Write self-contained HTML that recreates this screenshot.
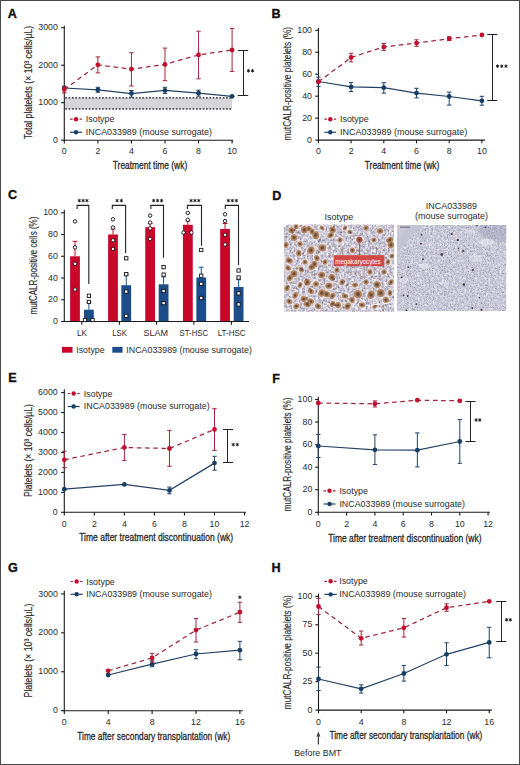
<!DOCTYPE html>
<html><head><meta charset="utf-8"><title>Figure</title>
<style>html,body{margin:0;padding:0;background:#fff;width:520px;height:765px;overflow:hidden}
svg{display:block;font-family:"Liberation Sans", sans-serif}</style></head>
<body>
<svg width="520" height="765" viewBox="0 0 520 765" font-family='"Liberation Sans", sans-serif'>
<rect x="0" y="0" width="520" height="765" fill="#fff"/>
<text x="7.8" y="17.9" font-size="12.6" text-anchor="start" fill="#111" font-weight="bold" stroke="#111" stroke-width="0.35">A</text>
<rect x="64.3" y="97.7" width="167.7" height="11.5" fill="#d6d6da"/>
<line x1="65.3" y1="97.9" x2="232" y2="97.9" stroke="#555" stroke-width="1.7" stroke-dasharray="1.7 1.65"/>
<line x1="65.3" y1="108.9" x2="232" y2="108.9" stroke="#555" stroke-width="1.7" stroke-dasharray="1.7 1.65"/>
<line x1="64.3" y1="25.8" x2="64.3" y2="140.75" stroke="#1a1a1a" stroke-width="1.1"/>
<line x1="63.75" y1="140.2" x2="233" y2="140.2" stroke="#1a1a1a" stroke-width="1.1"/>
<line x1="61.1" y1="140.2" x2="64.3" y2="140.2" stroke="#1a1a1a" stroke-width="1.1"/>
<text x="57.9" y="142.8" font-size="8.8" text-anchor="end" fill="#2b2b2b" font-weight="normal">0</text>
<line x1="61.1" y1="102.7" x2="64.3" y2="102.7" stroke="#1a1a1a" stroke-width="1.1"/>
<text x="57.9" y="105.3" font-size="8.8" text-anchor="end" fill="#2b2b2b" font-weight="normal">1000</text>
<line x1="61.1" y1="65.2" x2="64.3" y2="65.2" stroke="#1a1a1a" stroke-width="1.1"/>
<text x="57.9" y="67.8" font-size="8.8" text-anchor="end" fill="#2b2b2b" font-weight="normal">2000</text>
<line x1="61.1" y1="27.7" x2="64.3" y2="27.7" stroke="#1a1a1a" stroke-width="1.1"/>
<text x="57.9" y="30.3" font-size="8.8" text-anchor="end" fill="#2b2b2b" font-weight="normal">3000</text>
<line x1="64.3" y1="140.2" x2="64.3" y2="143.4" stroke="#1a1a1a" stroke-width="1.1"/>
<text x="64.3" y="154" font-size="8.8" text-anchor="middle" fill="#2b2b2b" font-weight="normal">0</text>
<line x1="97.86" y1="140.2" x2="97.86" y2="143.4" stroke="#1a1a1a" stroke-width="1.1"/>
<text x="97.86" y="154" font-size="8.8" text-anchor="middle" fill="#2b2b2b" font-weight="normal">2</text>
<line x1="131.42" y1="140.2" x2="131.42" y2="143.4" stroke="#1a1a1a" stroke-width="1.1"/>
<text x="131.42" y="154" font-size="8.8" text-anchor="middle" fill="#2b2b2b" font-weight="normal">4</text>
<line x1="164.98" y1="140.2" x2="164.98" y2="143.4" stroke="#1a1a1a" stroke-width="1.1"/>
<text x="164.98" y="154" font-size="8.8" text-anchor="middle" fill="#2b2b2b" font-weight="normal">6</text>
<line x1="198.54" y1="140.2" x2="198.54" y2="143.4" stroke="#1a1a1a" stroke-width="1.1"/>
<text x="198.54" y="154" font-size="8.8" text-anchor="middle" fill="#2b2b2b" font-weight="normal">8</text>
<line x1="232.1" y1="140.2" x2="232.1" y2="143.4" stroke="#1a1a1a" stroke-width="1.1"/>
<text x="232.1" y="154" font-size="8.8" text-anchor="middle" fill="#2b2b2b" font-weight="normal">10</text>
<text x="112.8" y="169.1" font-size="10.6" text-anchor="start" fill="#2b2b2b" font-weight="normal" textLength="74.4" lengthAdjust="spacingAndGlyphs" stroke="#2b2b2b" stroke-width="0.3">Treatment time (wk)</text>
<text transform="translate(31.9 82.55) rotate(-90)" x="0" y="0" font-size="11" text-anchor="middle" fill="#2b2b2b" stroke="#2b2b2b" stroke-width="0.15" textLength="113.3" lengthAdjust="spacingAndGlyphs">Total platelets (× 10³ cells/µL)</text>
<path d="M64.3 88 L97.86 89.8 L131.42 93.5 L164.98 90.4 L198.54 93.2 L232.1 96.3" fill="none" stroke="#234266" stroke-width="1.25"/>
<line x1="97.86" y1="87.3" x2="97.86" y2="92.3" stroke="#234266" stroke-width="1"/>
<line x1="95.66" y1="87.3" x2="100.06" y2="87.3" stroke="#234266" stroke-width="1"/>
<line x1="95.66" y1="92.3" x2="100.06" y2="92.3" stroke="#234266" stroke-width="1"/>
<line x1="131.42" y1="90.5" x2="131.42" y2="97.2" stroke="#234266" stroke-width="1"/>
<line x1="129.22" y1="90.5" x2="133.62" y2="90.5" stroke="#234266" stroke-width="1"/>
<line x1="129.22" y1="97.2" x2="133.62" y2="97.2" stroke="#234266" stroke-width="1"/>
<line x1="164.98" y1="87.3" x2="164.98" y2="93.5" stroke="#234266" stroke-width="1"/>
<line x1="162.78" y1="87.3" x2="167.18" y2="87.3" stroke="#234266" stroke-width="1"/>
<line x1="162.78" y1="93.5" x2="167.18" y2="93.5" stroke="#234266" stroke-width="1"/>
<line x1="198.54" y1="90.2" x2="198.54" y2="96.2" stroke="#234266" stroke-width="1"/>
<line x1="196.34" y1="90.2" x2="200.74" y2="90.2" stroke="#234266" stroke-width="1"/>
<line x1="196.34" y1="96.2" x2="200.74" y2="96.2" stroke="#234266" stroke-width="1"/>
<circle cx="64.3" cy="88" r="2.4" fill="#173f66"/>
<circle cx="97.86" cy="89.8" r="2.4" fill="#173f66"/>
<circle cx="131.42" cy="93.5" r="2.4" fill="#173f66"/>
<circle cx="164.98" cy="90.4" r="2.4" fill="#173f66"/>
<circle cx="198.54" cy="93.2" r="2.4" fill="#173f66"/>
<circle cx="232.1" cy="96.3" r="2.4" fill="#173f66"/>
<path d="M64.3 89.5 L97.86 64.8 L131.42 69.2 L164.98 64.4 L198.54 54.9 L232.1 50" fill="none" stroke="#a0253e" stroke-width="1.25" stroke-dasharray="4.6 3.6"/>
<line x1="64.3" y1="86.2" x2="64.3" y2="92.8" stroke="#a0253e" stroke-width="1"/>
<line x1="62.1" y1="86.2" x2="66.5" y2="86.2" stroke="#a0253e" stroke-width="1"/>
<line x1="62.1" y1="92.8" x2="66.5" y2="92.8" stroke="#a0253e" stroke-width="1"/>
<line x1="97.86" y1="56.9" x2="97.86" y2="72.9" stroke="#a0253e" stroke-width="1"/>
<line x1="95.66" y1="56.9" x2="100.06" y2="56.9" stroke="#a0253e" stroke-width="1"/>
<line x1="95.66" y1="72.9" x2="100.06" y2="72.9" stroke="#a0253e" stroke-width="1"/>
<line x1="131.42" y1="52.7" x2="131.42" y2="86" stroke="#a0253e" stroke-width="1"/>
<line x1="129.22" y1="52.7" x2="133.62" y2="52.7" stroke="#a0253e" stroke-width="1"/>
<line x1="129.22" y1="86" x2="133.62" y2="86" stroke="#a0253e" stroke-width="1"/>
<line x1="164.98" y1="48.1" x2="164.98" y2="80.7" stroke="#a0253e" stroke-width="1"/>
<line x1="162.78" y1="48.1" x2="167.18" y2="48.1" stroke="#a0253e" stroke-width="1"/>
<line x1="162.78" y1="80.7" x2="167.18" y2="80.7" stroke="#a0253e" stroke-width="1"/>
<line x1="198.54" y1="31.2" x2="198.54" y2="78.8" stroke="#a0253e" stroke-width="1"/>
<line x1="196.34" y1="31.2" x2="200.74" y2="31.2" stroke="#a0253e" stroke-width="1"/>
<line x1="196.34" y1="78.8" x2="200.74" y2="78.8" stroke="#a0253e" stroke-width="1"/>
<line x1="232.1" y1="28.5" x2="232.1" y2="71.4" stroke="#a0253e" stroke-width="1"/>
<line x1="229.9" y1="28.5" x2="234.3" y2="28.5" stroke="#a0253e" stroke-width="1"/>
<line x1="229.9" y1="71.4" x2="234.3" y2="71.4" stroke="#a0253e" stroke-width="1"/>
<circle cx="64.3" cy="89.5" r="2.4" fill="#c20f2e"/>
<circle cx="97.86" cy="64.8" r="2.4" fill="#c20f2e"/>
<circle cx="131.42" cy="69.2" r="2.4" fill="#c20f2e"/>
<circle cx="164.98" cy="64.4" r="2.4" fill="#c20f2e"/>
<circle cx="198.54" cy="54.9" r="2.4" fill="#c20f2e"/>
<circle cx="232.1" cy="50" r="2.4" fill="#c20f2e"/>
<line x1="70" y1="119.2" x2="82" y2="119.2" stroke="#a0253e" stroke-width="1.2" stroke-dasharray="2.6 2.2"/>
<circle cx="76" cy="119.2" r="2.2" fill="#c20f2e"/>
<text x="85.8" y="122.3" font-size="8.7" text-anchor="start" fill="#2b2b2b" font-weight="normal" textLength="28.6" lengthAdjust="spacingAndGlyphs">Isotype</text>
<line x1="70" y1="132.3" x2="82" y2="132.3" stroke="#234266" stroke-width="1.2"/>
<circle cx="76" cy="132.3" r="2.2" fill="#173f66"/>
<text x="85.8" y="135.4" font-size="8.7" text-anchor="start" fill="#2b2b2b" font-weight="normal" textLength="126.2" lengthAdjust="spacingAndGlyphs">INCA033989 (mouse surrogate)</text>
<line x1="243.5" y1="50.5" x2="243.5" y2="95.5" stroke="#222" stroke-width="1"/>
<line x1="237.8" y1="50.5" x2="248.2" y2="50.5" stroke="#222" stroke-width="1"/>
<line x1="237.8" y1="95.5" x2="248.2" y2="95.5" stroke="#222" stroke-width="1"/>
<path d="M248.4 69.45L248.4 72.15M247.23 70.12L249.57 71.47M249.57 70.12L247.23 71.47M252.5 69.45L252.5 72.15M251.33 70.12L253.67 71.47M253.67 70.12L251.33 71.47" stroke="#1a1a1a" stroke-width="0.95" stroke-linecap="round" fill="none"/>
<text x="271.6" y="18.3" font-size="12.6" text-anchor="start" fill="#111" font-weight="bold" stroke="#111" stroke-width="0.35">B</text>
<line x1="318.4" y1="27.9" x2="318.4" y2="140.65" stroke="#1a1a1a" stroke-width="1.1"/>
<line x1="317.85" y1="140.1" x2="485" y2="140.1" stroke="#1a1a1a" stroke-width="1.1"/>
<line x1="315.2" y1="140.1" x2="318.4" y2="140.1" stroke="#1a1a1a" stroke-width="1.1"/>
<text x="312" y="142.7" font-size="8.8" text-anchor="end" fill="#2b2b2b" font-weight="normal">0</text>
<line x1="315.2" y1="118.14" x2="318.4" y2="118.14" stroke="#1a1a1a" stroke-width="1.1"/>
<text x="312" y="120.74" font-size="8.8" text-anchor="end" fill="#2b2b2b" font-weight="normal">20</text>
<line x1="315.2" y1="96.18" x2="318.4" y2="96.18" stroke="#1a1a1a" stroke-width="1.1"/>
<text x="312" y="98.78" font-size="8.8" text-anchor="end" fill="#2b2b2b" font-weight="normal">40</text>
<line x1="315.2" y1="74.22" x2="318.4" y2="74.22" stroke="#1a1a1a" stroke-width="1.1"/>
<text x="312" y="76.82" font-size="8.8" text-anchor="end" fill="#2b2b2b" font-weight="normal">60</text>
<line x1="315.2" y1="52.26" x2="318.4" y2="52.26" stroke="#1a1a1a" stroke-width="1.1"/>
<text x="312" y="54.86" font-size="8.8" text-anchor="end" fill="#2b2b2b" font-weight="normal">80</text>
<line x1="315.2" y1="30.3" x2="318.4" y2="30.3" stroke="#1a1a1a" stroke-width="1.1"/>
<text x="312" y="32.9" font-size="8.8" text-anchor="end" fill="#2b2b2b" font-weight="normal">100</text>
<line x1="318.4" y1="140.1" x2="318.4" y2="143.3" stroke="#1a1a1a" stroke-width="1.1"/>
<text x="318.4" y="154" font-size="8.8" text-anchor="middle" fill="#2b2b2b" font-weight="normal">0</text>
<line x1="351.1" y1="140.1" x2="351.1" y2="143.3" stroke="#1a1a1a" stroke-width="1.1"/>
<text x="351.1" y="154" font-size="8.8" text-anchor="middle" fill="#2b2b2b" font-weight="normal">2</text>
<line x1="383.8" y1="140.1" x2="383.8" y2="143.3" stroke="#1a1a1a" stroke-width="1.1"/>
<text x="383.8" y="154" font-size="8.8" text-anchor="middle" fill="#2b2b2b" font-weight="normal">4</text>
<line x1="416.5" y1="140.1" x2="416.5" y2="143.3" stroke="#1a1a1a" stroke-width="1.1"/>
<text x="416.5" y="154" font-size="8.8" text-anchor="middle" fill="#2b2b2b" font-weight="normal">6</text>
<line x1="449.2" y1="140.1" x2="449.2" y2="143.3" stroke="#1a1a1a" stroke-width="1.1"/>
<text x="449.2" y="154" font-size="8.8" text-anchor="middle" fill="#2b2b2b" font-weight="normal">8</text>
<line x1="481.9" y1="140.1" x2="481.9" y2="143.3" stroke="#1a1a1a" stroke-width="1.1"/>
<text x="481.9" y="154" font-size="8.8" text-anchor="middle" fill="#2b2b2b" font-weight="normal">10</text>
<text x="364.8" y="168.6" font-size="10.6" text-anchor="start" fill="#2b2b2b" font-weight="normal" textLength="74.5" lengthAdjust="spacingAndGlyphs" stroke="#2b2b2b" stroke-width="0.3">Treatment time (wk)</text>
<text transform="translate(290.9 83.7) rotate(-90)" x="0" y="0" font-size="11" text-anchor="middle" fill="#2b2b2b" stroke="#2b2b2b" stroke-width="0.15" textLength="113.6" lengthAdjust="spacingAndGlyphs">mutCALR-positive platelets (%)</text>
<path d="M318.4 81.5 L351.1 86.9 L383.8 87.7 L416.5 93.1 L449.2 96.5 L481.9 100.8" fill="none" stroke="#234266" stroke-width="1.25"/>
<line x1="318.4" y1="77.2" x2="318.4" y2="86.4" stroke="#234266" stroke-width="1"/>
<line x1="316.2" y1="77.2" x2="320.6" y2="77.2" stroke="#234266" stroke-width="1"/>
<line x1="316.2" y1="86.4" x2="320.6" y2="86.4" stroke="#234266" stroke-width="1"/>
<line x1="351.1" y1="82.5" x2="351.1" y2="91.5" stroke="#234266" stroke-width="1"/>
<line x1="348.9" y1="82.5" x2="353.3" y2="82.5" stroke="#234266" stroke-width="1"/>
<line x1="348.9" y1="91.5" x2="353.3" y2="91.5" stroke="#234266" stroke-width="1"/>
<line x1="383.8" y1="82.7" x2="383.8" y2="93.1" stroke="#234266" stroke-width="1"/>
<line x1="381.6" y1="82.7" x2="386" y2="82.7" stroke="#234266" stroke-width="1"/>
<line x1="381.6" y1="93.1" x2="386" y2="93.1" stroke="#234266" stroke-width="1"/>
<line x1="416.5" y1="88.3" x2="416.5" y2="97.9" stroke="#234266" stroke-width="1"/>
<line x1="414.3" y1="88.3" x2="418.7" y2="88.3" stroke="#234266" stroke-width="1"/>
<line x1="414.3" y1="97.9" x2="418.7" y2="97.9" stroke="#234266" stroke-width="1"/>
<line x1="449.2" y1="92.1" x2="449.2" y2="105.1" stroke="#234266" stroke-width="1"/>
<line x1="447" y1="92.1" x2="451.4" y2="92.1" stroke="#234266" stroke-width="1"/>
<line x1="447" y1="105.1" x2="451.4" y2="105.1" stroke="#234266" stroke-width="1"/>
<line x1="481.9" y1="96.3" x2="481.9" y2="105.2" stroke="#234266" stroke-width="1"/>
<line x1="479.7" y1="96.3" x2="484.1" y2="96.3" stroke="#234266" stroke-width="1"/>
<line x1="479.7" y1="105.2" x2="484.1" y2="105.2" stroke="#234266" stroke-width="1"/>
<circle cx="318.4" cy="81.5" r="2.4" fill="#173f66"/>
<circle cx="351.1" cy="86.9" r="2.4" fill="#173f66"/>
<circle cx="383.8" cy="87.7" r="2.4" fill="#173f66"/>
<circle cx="416.5" cy="93.1" r="2.4" fill="#173f66"/>
<circle cx="449.2" cy="96.5" r="2.4" fill="#173f66"/>
<circle cx="481.9" cy="100.8" r="2.4" fill="#173f66"/>
<path d="M318.4 81.8 L351.1 57.5 L383.8 46.9 L416.5 43.1 L449.2 38.7 L481.9 35" fill="none" stroke="#a0253e" stroke-width="1.25" stroke-dasharray="4.6 3.6"/>
<line x1="351.1" y1="53.3" x2="351.1" y2="61.9" stroke="#a0253e" stroke-width="1"/>
<line x1="348.9" y1="53.3" x2="353.3" y2="53.3" stroke="#a0253e" stroke-width="1"/>
<line x1="348.9" y1="61.9" x2="353.3" y2="61.9" stroke="#a0253e" stroke-width="1"/>
<line x1="383.8" y1="43.5" x2="383.8" y2="50.4" stroke="#a0253e" stroke-width="1"/>
<line x1="381.6" y1="43.5" x2="386" y2="43.5" stroke="#a0253e" stroke-width="1"/>
<line x1="381.6" y1="50.4" x2="386" y2="50.4" stroke="#a0253e" stroke-width="1"/>
<line x1="416.5" y1="39.8" x2="416.5" y2="46.3" stroke="#a0253e" stroke-width="1"/>
<line x1="414.3" y1="39.8" x2="418.7" y2="39.8" stroke="#a0253e" stroke-width="1"/>
<line x1="414.3" y1="46.3" x2="418.7" y2="46.3" stroke="#a0253e" stroke-width="1"/>
<line x1="449.2" y1="36.8" x2="449.2" y2="40.6" stroke="#a0253e" stroke-width="1"/>
<line x1="447" y1="36.8" x2="451.4" y2="36.8" stroke="#a0253e" stroke-width="1"/>
<line x1="447" y1="40.6" x2="451.4" y2="40.6" stroke="#a0253e" stroke-width="1"/>
<circle cx="318.4" cy="81.8" r="2.4" fill="#c20f2e"/>
<circle cx="351.1" cy="57.5" r="2.4" fill="#c20f2e"/>
<circle cx="383.8" cy="46.9" r="2.4" fill="#c20f2e"/>
<circle cx="416.5" cy="43.1" r="2.4" fill="#c20f2e"/>
<circle cx="449.2" cy="38.7" r="2.4" fill="#c20f2e"/>
<circle cx="481.9" cy="35" r="2.4" fill="#c20f2e"/>
<line x1="324.4" y1="119.2" x2="336.2" y2="119.2" stroke="#a0253e" stroke-width="1.2" stroke-dasharray="2.6 2.2"/>
<circle cx="330.3" cy="119.2" r="2.2" fill="#c20f2e"/>
<text x="340" y="122.3" font-size="8.7" text-anchor="start" fill="#2b2b2b" font-weight="normal" textLength="28.6" lengthAdjust="spacingAndGlyphs">Isotype</text>
<line x1="324.4" y1="132.3" x2="336.2" y2="132.3" stroke="#234266" stroke-width="1.2"/>
<circle cx="330.3" cy="132.3" r="2.2" fill="#173f66"/>
<text x="340" y="135.4" font-size="8.7" text-anchor="start" fill="#2b2b2b" font-weight="normal" textLength="127.3" lengthAdjust="spacingAndGlyphs">INCA033989 (mouse surrogate)</text>
<line x1="492.5" y1="34.5" x2="492.5" y2="100.5" stroke="#222" stroke-width="1"/>
<line x1="487.3" y1="34.5" x2="497.3" y2="34.5" stroke="#222" stroke-width="1"/>
<line x1="487.3" y1="100.5" x2="497.3" y2="100.5" stroke="#222" stroke-width="1"/>
<path d="M497.5 64.85L497.5 67.55M496.33 65.53L498.67 66.88M498.67 65.53L496.33 66.88M501.75 64.85L501.75 67.55M500.58 65.53L502.92 66.88M502.92 65.53L500.58 66.88M506 64.85L506 67.55M504.83 65.53L507.17 66.88M507.17 65.53L504.83 66.88" stroke="#1a1a1a" stroke-width="0.95" stroke-linecap="round" fill="none"/>
<text x="7.9" y="199.3" font-size="12.6" text-anchor="start" fill="#111" font-weight="bold" stroke="#111" stroke-width="0.35">C</text>
<line x1="75" y1="241.3" x2="75" y2="256.3" stroke="#c20f2e" stroke-width="1"/>
<line x1="72.6" y1="241.3" x2="77.4" y2="241.3" stroke="#c20f2e" stroke-width="1"/>
<line x1="88.9" y1="302.3" x2="88.9" y2="309.7" stroke="#1d4f8c" stroke-width="1"/>
<line x1="86.5" y1="302.3" x2="91.3" y2="302.3" stroke="#1d4f8c" stroke-width="1"/>
<rect x="70.1" y="256.3" width="9.8" height="65.2" fill="#c8072b"/>
<rect x="84" y="309.7" width="9.8" height="11.8" fill="#1b4d8a"/>
<line x1="113" y1="229" x2="113" y2="234.5" stroke="#c20f2e" stroke-width="1"/>
<line x1="110.6" y1="229" x2="115.4" y2="229" stroke="#c20f2e" stroke-width="1"/>
<line x1="126.25" y1="274.6" x2="126.25" y2="285.2" stroke="#1d4f8c" stroke-width="1"/>
<line x1="123.85" y1="274.6" x2="128.65" y2="274.6" stroke="#1d4f8c" stroke-width="1"/>
<rect x="108.1" y="234.5" width="9.8" height="87" fill="#c8072b"/>
<rect x="121.35" y="285.2" width="9.8" height="36.3" fill="#1b4d8a"/>
<line x1="150.15" y1="223.5" x2="150.15" y2="227.2" stroke="#c20f2e" stroke-width="1"/>
<line x1="147.75" y1="223.5" x2="152.55" y2="223.5" stroke="#c20f2e" stroke-width="1"/>
<line x1="163.6" y1="276.9" x2="163.6" y2="284.3" stroke="#1d4f8c" stroke-width="1"/>
<line x1="161.2" y1="276.9" x2="166" y2="276.9" stroke="#1d4f8c" stroke-width="1"/>
<rect x="145.25" y="227.2" width="9.8" height="94.3" fill="#c8072b"/>
<rect x="158.7" y="284.3" width="9.8" height="37.2" fill="#1b4d8a"/>
<line x1="187.85" y1="221" x2="187.85" y2="224.8" stroke="#c20f2e" stroke-width="1"/>
<line x1="185.45" y1="221" x2="190.25" y2="221" stroke="#c20f2e" stroke-width="1"/>
<line x1="201.25" y1="267.2" x2="201.25" y2="277.5" stroke="#1d4f8c" stroke-width="1"/>
<line x1="198.85" y1="267.2" x2="203.65" y2="267.2" stroke="#1d4f8c" stroke-width="1"/>
<rect x="182.95" y="224.8" width="9.8" height="96.7" fill="#c8072b"/>
<rect x="196.35" y="277.5" width="9.8" height="44" fill="#1b4d8a"/>
<line x1="225.05" y1="223.5" x2="225.05" y2="229" stroke="#c20f2e" stroke-width="1"/>
<line x1="222.65" y1="223.5" x2="227.45" y2="223.5" stroke="#c20f2e" stroke-width="1"/>
<line x1="238.6" y1="279.7" x2="238.6" y2="287" stroke="#1d4f8c" stroke-width="1"/>
<line x1="236.2" y1="279.7" x2="241" y2="279.7" stroke="#1d4f8c" stroke-width="1"/>
<rect x="220.15" y="229" width="9.8" height="92.5" fill="#c8072b"/>
<rect x="233.7" y="287" width="9.8" height="34.5" fill="#1b4d8a"/>
<line x1="64.3" y1="209.7" x2="64.3" y2="322.05" stroke="#1a1a1a" stroke-width="1.1"/>
<line x1="63.75" y1="321.5" x2="249" y2="321.5" stroke="#1a1a1a" stroke-width="1.1"/>
<line x1="61.1" y1="321.5" x2="64.3" y2="321.5" stroke="#1a1a1a" stroke-width="1.1"/>
<text x="57.9" y="324.1" font-size="8.8" text-anchor="end" fill="#2b2b2b" font-weight="normal">0</text>
<line x1="61.1" y1="299.76" x2="64.3" y2="299.76" stroke="#1a1a1a" stroke-width="1.1"/>
<text x="57.9" y="302.36" font-size="8.8" text-anchor="end" fill="#2b2b2b" font-weight="normal">20</text>
<line x1="61.1" y1="278.02" x2="64.3" y2="278.02" stroke="#1a1a1a" stroke-width="1.1"/>
<text x="57.9" y="280.62" font-size="8.8" text-anchor="end" fill="#2b2b2b" font-weight="normal">40</text>
<line x1="61.1" y1="256.28" x2="64.3" y2="256.28" stroke="#1a1a1a" stroke-width="1.1"/>
<text x="57.9" y="258.88" font-size="8.8" text-anchor="end" fill="#2b2b2b" font-weight="normal">60</text>
<line x1="61.1" y1="234.54" x2="64.3" y2="234.54" stroke="#1a1a1a" stroke-width="1.1"/>
<text x="57.9" y="237.14" font-size="8.8" text-anchor="end" fill="#2b2b2b" font-weight="normal">80</text>
<line x1="61.1" y1="212.8" x2="64.3" y2="212.8" stroke="#1a1a1a" stroke-width="1.1"/>
<text x="57.9" y="215.4" font-size="8.8" text-anchor="end" fill="#2b2b2b" font-weight="normal">100</text>
<line x1="81.8" y1="321.5" x2="81.8" y2="324.7" stroke="#1a1a1a" stroke-width="1.1"/>
<line x1="119.4" y1="321.5" x2="119.4" y2="324.7" stroke="#1a1a1a" stroke-width="1.1"/>
<line x1="156.6" y1="321.5" x2="156.6" y2="324.7" stroke="#1a1a1a" stroke-width="1.1"/>
<line x1="193.9" y1="321.5" x2="193.9" y2="324.7" stroke="#1a1a1a" stroke-width="1.1"/>
<line x1="231.4" y1="321.5" x2="231.4" y2="324.7" stroke="#1a1a1a" stroke-width="1.1"/>
<text x="76.9" y="335.8" font-size="8.4" text-anchor="start" fill="#2b2b2b" font-weight="normal" textLength="10" lengthAdjust="spacingAndGlyphs">LK</text>
<text x="112.3" y="335.8" font-size="8.4" text-anchor="start" fill="#2b2b2b" font-weight="normal" textLength="14.6" lengthAdjust="spacingAndGlyphs">LSK</text>
<text x="143.5" y="335.8" font-size="8.4" text-anchor="start" fill="#2b2b2b" font-weight="normal" textLength="24.6" lengthAdjust="spacingAndGlyphs">SLAM</text>
<text x="179.6" y="335.8" font-size="8.4" text-anchor="start" fill="#2b2b2b" font-weight="normal" textLength="28.5" lengthAdjust="spacingAndGlyphs">ST-HSC</text>
<text x="217.7" y="335.8" font-size="8.4" text-anchor="start" fill="#2b2b2b" font-weight="normal" textLength="27.9" lengthAdjust="spacingAndGlyphs">LT-HSC</text>
<circle cx="75" cy="221.4" r="1.75" fill="#fff" stroke="#111" stroke-width="0.9"/>
<circle cx="75" cy="247.4" r="1.75" fill="#fff" stroke="#111" stroke-width="0.9"/>
<circle cx="75" cy="263.8" r="1.75" fill="#fff" stroke="#111" stroke-width="0.9"/>
<circle cx="75" cy="289.5" r="1.75" fill="#fff" stroke="#111" stroke-width="0.9"/>
<rect x="87.25" y="294.15" width="3.3" height="3.3" fill="#fff" stroke="#111" stroke-width="0.9"/>
<rect x="87.25" y="300.25" width="3.3" height="3.3" fill="#fff" stroke="#111" stroke-width="0.9"/>
<rect x="83.35" y="318.35" width="3.3" height="3.3" fill="#fff" stroke="#111" stroke-width="0.9"/>
<rect x="90.85" y="318.35" width="3.3" height="3.3" fill="#fff" stroke="#111" stroke-width="0.9"/>
<circle cx="113" cy="219.3" r="1.75" fill="#fff" stroke="#111" stroke-width="0.9"/>
<circle cx="113" cy="227.5" r="1.75" fill="#fff" stroke="#111" stroke-width="0.9"/>
<circle cx="113" cy="240.3" r="1.75" fill="#fff" stroke="#111" stroke-width="0.9"/>
<circle cx="113" cy="248.9" r="1.75" fill="#fff" stroke="#111" stroke-width="0.9"/>
<rect x="124.6" y="256.65" width="3.3" height="3.3" fill="#fff" stroke="#111" stroke-width="0.9"/>
<rect x="124.6" y="272.55" width="3.3" height="3.3" fill="#fff" stroke="#111" stroke-width="0.9"/>
<rect x="124.6" y="289.95" width="3.3" height="3.3" fill="#fff" stroke="#111" stroke-width="0.9"/>
<rect x="124.6" y="314.25" width="3.3" height="3.3" fill="#fff" stroke="#111" stroke-width="0.9"/>
<circle cx="150.15" cy="215.6" r="1.75" fill="#fff" stroke="#111" stroke-width="0.9"/>
<circle cx="150.15" cy="222.6" r="1.75" fill="#fff" stroke="#111" stroke-width="0.9"/>
<circle cx="150.15" cy="228.4" r="1.75" fill="#fff" stroke="#111" stroke-width="0.9"/>
<circle cx="150.15" cy="238.9" r="1.75" fill="#fff" stroke="#111" stroke-width="0.9"/>
<rect x="161.95" y="265.55" width="3.3" height="3.3" fill="#fff" stroke="#111" stroke-width="0.9"/>
<rect x="161.95" y="272.95" width="3.3" height="3.3" fill="#fff" stroke="#111" stroke-width="0.9"/>
<rect x="161.95" y="289.35" width="3.3" height="3.3" fill="#fff" stroke="#111" stroke-width="0.9"/>
<rect x="161.95" y="301.45" width="3.3" height="3.3" fill="#fff" stroke="#111" stroke-width="0.9"/>
<circle cx="187.85" cy="212.9" r="1.75" fill="#fff" stroke="#111" stroke-width="0.9"/>
<circle cx="187.85" cy="219.8" r="1.75" fill="#fff" stroke="#111" stroke-width="0.9"/>
<circle cx="183.55" cy="232.6" r="1.75" fill="#fff" stroke="#111" stroke-width="0.9"/>
<circle cx="191.45" cy="232.6" r="1.75" fill="#fff" stroke="#111" stroke-width="0.9"/>
<rect x="199.6" y="248.35" width="3.3" height="3.3" fill="#fff" stroke="#111" stroke-width="0.9"/>
<rect x="199.6" y="274.05" width="3.3" height="3.3" fill="#fff" stroke="#111" stroke-width="0.9"/>
<rect x="199.6" y="282.25" width="3.3" height="3.3" fill="#fff" stroke="#111" stroke-width="0.9"/>
<rect x="199.6" y="296.35" width="3.3" height="3.3" fill="#fff" stroke="#111" stroke-width="0.9"/>
<circle cx="225.05" cy="214.3" r="1.75" fill="#fff" stroke="#111" stroke-width="0.9"/>
<circle cx="225.05" cy="221.1" r="1.75" fill="#fff" stroke="#111" stroke-width="0.9"/>
<circle cx="225.05" cy="234.8" r="1.75" fill="#fff" stroke="#111" stroke-width="0.9"/>
<circle cx="225.05" cy="244.5" r="1.75" fill="#fff" stroke="#111" stroke-width="0.9"/>
<rect x="236.95" y="268.85" width="3.3" height="3.3" fill="#fff" stroke="#111" stroke-width="0.9"/>
<rect x="236.95" y="275.85" width="3.3" height="3.3" fill="#fff" stroke="#111" stroke-width="0.9"/>
<rect x="236.95" y="291.75" width="3.3" height="3.3" fill="#fff" stroke="#111" stroke-width="0.9"/>
<rect x="236.95" y="302.75" width="3.3" height="3.3" fill="#fff" stroke="#111" stroke-width="0.9"/>
<path d="M77.1 208.9 V205.4 H88.8 V284" fill="none" stroke="#222" stroke-width="1.1"/>
<path d="M79.3 199.25L79.3 201.95M78.13 199.92L80.47 201.28M80.47 199.92L78.13 201.28M83.1 199.25L83.1 201.95M81.93 199.92L84.27 201.28M84.27 199.92L81.93 201.28M86.9 199.25L86.9 201.95M85.73 199.92L88.07 201.28M88.07 199.92L85.73 201.28" stroke="#1a1a1a" stroke-width="0.95" stroke-linecap="round" fill="none"/>
<path d="M112.3 208.9 V205.4 H125.6 V253.1" fill="none" stroke="#222" stroke-width="1.1"/>
<path d="M117.1 199.25L117.1 201.95M115.93 199.92L118.27 201.28M118.27 199.92L115.93 201.28M121.4 199.25L121.4 201.95M120.23 199.92L122.57 201.28M122.57 199.92L120.23 201.28" stroke="#1a1a1a" stroke-width="0.95" stroke-linecap="round" fill="none"/>
<path d="M150.9 208.9 V205.4 H163.5 V257.7" fill="none" stroke="#222" stroke-width="1.1"/>
<path d="M153.7 199.25L153.7 201.95M152.53 199.92L154.87 201.28M154.87 199.92L152.53 201.28M157.65 199.25L157.65 201.95M156.48 199.92L158.82 201.28M158.82 199.92L156.48 201.28M161.6 199.25L161.6 201.95M160.43 199.92L162.77 201.28M162.77 199.92L160.43 201.28" stroke="#1a1a1a" stroke-width="0.95" stroke-linecap="round" fill="none"/>
<path d="M187.4 208.9 V205.4 H201.5 V245.8" fill="none" stroke="#222" stroke-width="1.1"/>
<path d="M191.1 199.25L191.1 201.95M189.93 199.92L192.27 201.28M192.27 199.92L189.93 201.28M194.95 199.25L194.95 201.95M193.78 199.92L196.12 201.28M196.12 199.92L193.78 201.28M198.8 199.25L198.8 201.95M197.63 199.92L199.97 201.28M199.97 199.92L197.63 201.28" stroke="#1a1a1a" stroke-width="0.95" stroke-linecap="round" fill="none"/>
<path d="M225.3 208.9 V205.4 H238.5 V265" fill="none" stroke="#222" stroke-width="1.1"/>
<path d="M228.3 199.25L228.3 201.95M227.13 199.92L229.47 201.28M229.47 199.92L227.13 201.28M232.3 199.25L232.3 201.95M231.13 199.92L233.47 201.28M233.47 199.92L231.13 201.28M236.3 199.25L236.3 201.95M235.13 199.92L237.47 201.28M237.47 199.92L235.13 201.28" stroke="#1a1a1a" stroke-width="0.95" stroke-linecap="round" fill="none"/>
<text transform="translate(36.9 265.55) rotate(-90)" x="0" y="0" font-size="11" text-anchor="middle" fill="#2b2b2b" stroke="#2b2b2b" stroke-width="0.15" textLength="97.9" lengthAdjust="spacingAndGlyphs">mutCALR-positive cells (%)</text>
<rect x="62" y="346.9" width="10.5" height="5.8" fill="#c8072b"/>
<text x="76.3" y="352.7" font-size="8.7" text-anchor="start" fill="#2b2b2b" font-weight="normal" textLength="28.3" lengthAdjust="spacingAndGlyphs">Isotype</text>
<rect x="112.3" y="346.9" width="10.2" height="5.8" fill="#1b4d8a"/>
<text x="126.3" y="352.7" font-size="8.7" text-anchor="start" fill="#2b2b2b" font-weight="normal" textLength="125.6" lengthAdjust="spacingAndGlyphs">INCA033989 (mouse surrogate)</text>
<text x="272.3" y="199.5" font-size="12.6" text-anchor="start" fill="#111" font-weight="bold" stroke="#111" stroke-width="0.35">D</text>
<text x="324.5" y="219.5" font-size="8.7" text-anchor="start" fill="#2b2b2b" font-weight="normal" textLength="28.8" lengthAdjust="spacingAndGlyphs">Isotype</text>
<text x="425.8" y="208.6" font-size="8.7" text-anchor="start" fill="#2b2b2b" font-weight="normal" textLength="51.2" lengthAdjust="spacingAndGlyphs">INCA033989</text>
<text x="415" y="218.8" font-size="8.7" text-anchor="start" fill="#2b2b2b" font-weight="normal" textLength="73" lengthAdjust="spacingAndGlyphs">(mouse surrogate)</text>
<defs><filter id="spk" x="0" y="0" width="100%" height="100%" color-interpolation-filters="sRGB"><feTurbulence type="fractalNoise" baseFrequency="0.38" numOctaves="3" seed="4" result="t"/><feColorMatrix in="t" type="matrix" values="0 0 0 0 0.97  0 0 0 0 0.96  0 0 0 0 0.98  2.6 0 0 0 -1.05"/><feGaussianBlur stdDeviation="0.35"/></filter><filter id="spk2" x="0" y="0" width="100%" height="100%" color-interpolation-filters="sRGB"><feTurbulence type="fractalNoise" baseFrequency="0.5" numOctaves="2" seed="9" result="t"/><feColorMatrix in="t" type="matrix" values="0 0 0 0 0.45  0 0 0 0 0.44  0 0 0 0 0.6  0 2.2 0 0 -1.1"/><feGaussianBlur stdDeviation="0.35"/></filter><filter id="spk3" x="0" y="0" width="100%" height="100%" color-interpolation-filters="sRGB"><feTurbulence type="fractalNoise" baseFrequency="0.45" numOctaves="3" seed="21" result="t"/><feColorMatrix in="t" type="matrix" values="0 0 0 0 0.97  0 0 0 0 0.97  0 0 0 0 0.99  0 0 2.4 0 -1.0"/></filter><filter id="spk4" x="0" y="0" width="100%" height="100%" color-interpolation-filters="sRGB"><feTurbulence type="fractalNoise" baseFrequency="0.95" numOctaves="2" seed="33" result="t"/><feColorMatrix in="t" type="matrix" values="0 0 0 0 0.5  0 0 0 0 0.5  0 0 0 0 0.58  0 2.0 0 0 -0.92"/></filter><filter id="spkb" x="0" y="0" width="100%" height="100%" color-interpolation-filters="sRGB"><feTurbulence type="fractalNoise" baseFrequency="0.42" numOctaves="2" seed="57" result="t"/><feColorMatrix in="t" type="matrix" values="0 0 0 0 0.55  0 0 0 0 0.38  0 0 0 0 0.28  0 0 0 2.6 -1.25"/><feGaussianBlur stdDeviation="0.35"/></filter><radialGradient id="cellg"><stop offset="0" stop-color="#5a3c28"/><stop offset="0.55" stop-color="#7a563a"/><stop offset="1" stop-color="#a07a58"/></radialGradient><filter id="cb" x="-50%" y="-50%" width="200%" height="200%"><feGaussianBlur stdDeviation="0.35"/></filter><linearGradient id="rtr" x1="0" y1="0" x2="1" y2="1"><stop offset="0" stop-color="#9c9cba" stop-opacity="0"/><stop offset="0.6" stop-color="#9c9cba" stop-opacity="0"/><stop offset="1" stop-color="#9898b6" stop-opacity="0.0"/></linearGradient></defs>
<clipPath id="cl"><path d="M287 224.5 H394 V311.8 H284 V227.5 Z"/></clipPath>
<g clip-path="url(#cl)">
<rect x="284" y="224.5" width="110" height="87.3" fill="#c0c0d4"/>
<rect x="284" y="224.5" width="110" height="87.3" filter="url(#spk2)"/>
<rect x="284" y="224.5" width="110" height="87.3" filter="url(#spkb)" opacity="0.75"/>
<rect x="284" y="224.5" width="110" height="87.3" filter="url(#spk)"/>
<circle cx="304.3" cy="229.8" r="4.62" fill="#efe9ec" opacity="0.6"/>
<circle cx="315.7" cy="235.2" r="4.88" fill="#efe9ec" opacity="0.6"/>
<circle cx="332.5" cy="229.8" r="4.36" fill="#efe9ec" opacity="0.6"/>
<circle cx="330.7" cy="235.2" r="4.36" fill="#efe9ec" opacity="0.6"/>
<circle cx="291.6" cy="230.4" r="4.1" fill="#efe9ec" opacity="0.6"/>
<circle cx="294" cy="237.6" r="4.36" fill="#efe9ec" opacity="0.6"/>
<circle cx="310.9" cy="250.3" r="4.88" fill="#efe9ec" opacity="0.6"/>
<circle cx="322.3" cy="247.9" r="4.88" fill="#efe9ec" opacity="0.6"/>
<circle cx="289.2" cy="260.5" r="4.62" fill="#efe9ec" opacity="0.6"/>
<circle cx="298.8" cy="253.3" r="4.1" fill="#efe9ec" opacity="0.6"/>
<circle cx="314.5" cy="264.1" r="4.36" fill="#efe9ec" opacity="0.6"/>
<circle cx="311.5" cy="267.1" r="4.1" fill="#efe9ec" opacity="0.6"/>
<circle cx="294" cy="273.7" r="4.36" fill="#efe9ec" opacity="0.6"/>
<circle cx="289.8" cy="278" r="4.36" fill="#efe9ec" opacity="0.6"/>
<circle cx="301.3" cy="269.5" r="4.1" fill="#efe9ec" opacity="0.6"/>
<circle cx="307.3" cy="282.2" r="4.36" fill="#efe9ec" opacity="0.6"/>
<circle cx="321.7" cy="275" r="4.36" fill="#efe9ec" opacity="0.6"/>
<circle cx="332" cy="277.4" r="4.36" fill="#efe9ec" opacity="0.6"/>
<circle cx="328.9" cy="285.8" r="4.62" fill="#efe9ec" opacity="0.6"/>
<circle cx="321.7" cy="293" r="4.62" fill="#efe9ec" opacity="0.6"/>
<circle cx="326.5" cy="294.2" r="4.62" fill="#efe9ec" opacity="0.6"/>
<circle cx="332.5" cy="296" r="4.36" fill="#efe9ec" opacity="0.6"/>
<circle cx="307.3" cy="304.4" r="4.62" fill="#efe9ec" opacity="0.6"/>
<circle cx="310.9" cy="301.4" r="4.1" fill="#efe9ec" opacity="0.6"/>
<circle cx="303.7" cy="299" r="4.1" fill="#efe9ec" opacity="0.6"/>
<circle cx="295.2" cy="295.4" r="4.36" fill="#efe9ec" opacity="0.6"/>
<circle cx="289.2" cy="301.4" r="4.1" fill="#efe9ec" opacity="0.6"/>
<circle cx="296.4" cy="306.2" r="4.1" fill="#efe9ec" opacity="0.6"/>
<circle cx="318.1" cy="306.2" r="4.1" fill="#efe9ec" opacity="0.6"/>
<circle cx="332.5" cy="303.8" r="4.1" fill="#efe9ec" opacity="0.6"/>
<circle cx="310.9" cy="291.2" r="4.1" fill="#efe9ec" opacity="0.6"/>
<circle cx="316.9" cy="258.1" r="4.1" fill="#efe9ec" opacity="0.6"/>
<circle cx="308.8" cy="228.7" r="3.84" fill="#efe9ec" opacity="0.6"/>
<circle cx="312.1" cy="231.5" r="3.84" fill="#efe9ec" opacity="0.6"/>
<circle cx="380.1" cy="231" r="4.1" fill="#efe9ec" opacity="0.6"/>
<circle cx="389.7" cy="240" r="4.62" fill="#efe9ec" opacity="0.6"/>
<circle cx="391" cy="244.9" r="4.36" fill="#efe9ec" opacity="0.6"/>
<circle cx="377.1" cy="284.6" r="4.62" fill="#efe9ec" opacity="0.6"/>
<circle cx="357.9" cy="294.2" r="5.14" fill="#efe9ec" opacity="0.6"/>
<circle cx="371.1" cy="294.8" r="5.14" fill="#efe9ec" opacity="0.6"/>
<circle cx="380.7" cy="293" r="4.88" fill="#efe9ec" opacity="0.6"/>
<circle cx="347.6" cy="306.2" r="4.62" fill="#efe9ec" opacity="0.6"/>
<circle cx="342.2" cy="282.2" r="4.1" fill="#efe9ec" opacity="0.6"/>
<circle cx="391" cy="282.2" r="4.1" fill="#efe9ec" opacity="0.6"/>
<circle cx="352.4" cy="250.3" r="3.58" fill="#efe9ec" opacity="0.6"/>
<circle cx="386" cy="300" r="4.1" fill="#efe9ec" opacity="0.6"/>
<circle cx="362" cy="305" r="4.1" fill="#efe9ec" opacity="0.6"/>
<circle cx="345" cy="296" r="4.1" fill="#efe9ec" opacity="0.6"/>
<circle cx="388" cy="262" r="3.84" fill="#efe9ec" opacity="0.6"/>
<circle cx="370" cy="272" r="3.58" fill="#efe9ec" opacity="0.6"/>
<circle cx="340" cy="240" r="3.58" fill="#efe9ec" opacity="0.6"/>
<circle cx="350" cy="232" r="3.58" fill="#efe9ec" opacity="0.6"/>
<circle cx="366" cy="228" r="3.58" fill="#efe9ec" opacity="0.6"/>
<circle cx="286" cy="245" r="3.84" fill="#efe9ec" opacity="0.6"/>
<circle cx="300" cy="244" r="3.58" fill="#efe9ec" opacity="0.6"/>
<circle cx="325" cy="262" r="3.58" fill="#efe9ec" opacity="0.6"/>
<circle cx="337" cy="270" r="3.58" fill="#efe9ec" opacity="0.6"/>
<circle cx="355" cy="285" r="3.84" fill="#efe9ec" opacity="0.6"/>
<circle cx="366" cy="282" r="3.58" fill="#efe9ec" opacity="0.6"/>
<circle cx="384" cy="272" r="3.58" fill="#efe9ec" opacity="0.6"/>
<circle cx="287" cy="288" r="4.1" fill="#efe9ec" opacity="0.6"/>
<circle cx="300" cy="285" r="3.84" fill="#efe9ec" opacity="0.6"/>
<circle cx="316" cy="284" r="3.84" fill="#efe9ec" opacity="0.6"/>
<circle cx="338" cy="305" r="4.1" fill="#efe9ec" opacity="0.6"/>
<circle cx="352" cy="300" r="3.84" fill="#efe9ec" opacity="0.6"/>
<circle cx="375" cy="306" r="3.84" fill="#efe9ec" opacity="0.6"/>
<circle cx="390" cy="293" r="3.84" fill="#efe9ec" opacity="0.6"/>
<circle cx="296" cy="226.5" r="3.58" fill="#efe9ec" opacity="0.6"/>
<circle cx="322" cy="228" r="3.58" fill="#efe9ec" opacity="0.6"/>
<circle cx="345" cy="228" r="3.45" fill="#efe9ec" opacity="0.6"/>
<circle cx="374" cy="240" r="3.45" fill="#efe9ec" opacity="0.6"/>
<circle cx="392" cy="256" r="3.58" fill="#efe9ec" opacity="0.6"/>
<circle cx="288" cy="268" r="3.84" fill="#efe9ec" opacity="0.6"/>
<circle cx="305" cy="262" r="3.45" fill="#efe9ec" opacity="0.6"/>
<g filter="url(#cb)">
<ellipse cx="0" cy="0" rx="3.72" ry="3.23" transform="translate(304.3 229.8) rotate(81.43)" fill="#a8744a" opacity="0.82"/>
<ellipse cx="0" cy="0" rx="2.28" ry="1.98" transform="translate(304.3 229.8) rotate(106.88)" fill="url(#cellg)"/>
<ellipse cx="0" cy="0" rx="3.98" ry="3.39" transform="translate(315.7 235.2) rotate(83.82)" fill="#a8744a" opacity="0.82"/>
<ellipse cx="0" cy="0" rx="2.47" ry="2.11" transform="translate(315.7 235.2) rotate(89.06)" fill="url(#cellg)"/>
<ellipse cx="0" cy="0" rx="3.46" ry="2.95" transform="translate(332.5 229.8) rotate(33.24)" fill="#a8744a" opacity="0.82"/>
<ellipse cx="0" cy="0" rx="2.09" ry="1.78" transform="translate(332.5 229.8) rotate(41.03)" fill="url(#cellg)"/>
<ellipse cx="0" cy="0" rx="3.46" ry="2.52" transform="translate(330.7 235.2) rotate(142.74)" fill="#a8744a" opacity="0.82"/>
<ellipse cx="0" cy="0" rx="2.09" ry="1.52" transform="translate(330.7 235.2) rotate(130.94)" fill="url(#cellg)"/>
<ellipse cx="0" cy="0" rx="3.2" ry="3.02" transform="translate(291.6 230.4) rotate(16.32)" fill="#a8744a" opacity="0.82"/>
<ellipse cx="0" cy="0" rx="1.9" ry="1.79" transform="translate(291.6 230.4) rotate(27.93)" fill="url(#cellg)"/>
<ellipse cx="0" cy="0" rx="3.46" ry="3.44" transform="translate(294 237.6) rotate(7.54)" fill="#a8744a" opacity="0.82"/>
<ellipse cx="0" cy="0" rx="2.09" ry="2.08" transform="translate(294 237.6) rotate(35.42)" fill="url(#cellg)"/>
<ellipse cx="0" cy="0" rx="3.98" ry="3.52" transform="translate(310.9 250.3) rotate(117.71)" fill="#a8744a" opacity="0.82"/>
<ellipse cx="0" cy="0" rx="2.47" ry="2.19" transform="translate(310.9 250.3) rotate(97.16)" fill="url(#cellg)"/>
<ellipse cx="0" cy="0" rx="3.98" ry="3.42" transform="translate(322.3 247.9) rotate(2.7)" fill="#a8744a" opacity="0.82"/>
<ellipse cx="0" cy="0" rx="2.47" ry="2.12" transform="translate(322.3 247.9) rotate(-23.73)" fill="url(#cellg)"/>
<ellipse cx="0" cy="0" rx="3.72" ry="2.87" transform="translate(289.2 260.5) rotate(34.24)" fill="#a8744a" opacity="0.82"/>
<ellipse cx="0" cy="0" rx="2.28" ry="1.76" transform="translate(289.2 260.5) rotate(6.04)" fill="url(#cellg)"/>
<ellipse cx="0" cy="0" rx="3.2" ry="2.66" transform="translate(298.8 253.3) rotate(83.51)" fill="#a8744a" opacity="0.82"/>
<ellipse cx="0" cy="0" rx="1.9" ry="1.58" transform="translate(298.8 253.3) rotate(104.05)" fill="url(#cellg)"/>
<ellipse cx="0" cy="0" rx="3.46" ry="3.09" transform="translate(314.5 264.1) rotate(93.44)" fill="#a8744a" opacity="0.82"/>
<ellipse cx="0" cy="0" rx="2.09" ry="1.86" transform="translate(314.5 264.1) rotate(93.43)" fill="url(#cellg)"/>
<ellipse cx="0" cy="0" rx="3.2" ry="2.68" transform="translate(311.5 267.1) rotate(119.24)" fill="#a8744a" opacity="0.82"/>
<ellipse cx="0" cy="0" rx="1.9" ry="1.59" transform="translate(311.5 267.1) rotate(105.93)" fill="url(#cellg)"/>
<ellipse cx="0" cy="0" rx="3.46" ry="3.46" transform="translate(294 273.7) rotate(179.58)" fill="#a8744a" opacity="0.82"/>
<ellipse cx="0" cy="0" rx="2.09" ry="2.09" transform="translate(294 273.7) rotate(199.99)" fill="url(#cellg)"/>
<ellipse cx="0" cy="0" rx="3.46" ry="2.75" transform="translate(289.8 278) rotate(127.41)" fill="#a8744a" opacity="0.82"/>
<ellipse cx="0" cy="0" rx="2.09" ry="1.66" transform="translate(289.8 278) rotate(111.19)" fill="url(#cellg)"/>
<ellipse cx="0" cy="0" rx="3.2" ry="2.31" transform="translate(301.3 269.5) rotate(52.03)" fill="#a8744a" opacity="0.82"/>
<ellipse cx="0" cy="0" rx="1.9" ry="1.37" transform="translate(301.3 269.5) rotate(68)" fill="url(#cellg)"/>
<ellipse cx="0" cy="0" rx="3.46" ry="3.3" transform="translate(307.3 282.2) rotate(72.07)" fill="#a8744a" opacity="0.82"/>
<ellipse cx="0" cy="0" rx="2.09" ry="1.99" transform="translate(307.3 282.2) rotate(65.26)" fill="url(#cellg)"/>
<ellipse cx="0" cy="0" rx="3.46" ry="3.3" transform="translate(321.7 275) rotate(172.45)" fill="#a8744a" opacity="0.82"/>
<ellipse cx="0" cy="0" rx="2.09" ry="1.99" transform="translate(321.7 275) rotate(142.48)" fill="url(#cellg)"/>
<ellipse cx="0" cy="0" rx="3.46" ry="3.37" transform="translate(332 277.4) rotate(37.75)" fill="#a8744a" opacity="0.82"/>
<ellipse cx="0" cy="0" rx="2.09" ry="2.03" transform="translate(332 277.4) rotate(35.95)" fill="url(#cellg)"/>
<ellipse cx="0" cy="0" rx="3.72" ry="3.05" transform="translate(328.9 285.8) rotate(176.46)" fill="#a8744a" opacity="0.82"/>
<ellipse cx="0" cy="0" rx="2.28" ry="1.87" transform="translate(328.9 285.8) rotate(150.85)" fill="url(#cellg)"/>
<ellipse cx="0" cy="0" rx="3.72" ry="3.47" transform="translate(321.7 293) rotate(113.3)" fill="#a8744a" opacity="0.82"/>
<ellipse cx="0" cy="0" rx="2.28" ry="2.13" transform="translate(321.7 293) rotate(99.49)" fill="url(#cellg)"/>
<ellipse cx="0" cy="0" rx="3.72" ry="2.98" transform="translate(326.5 294.2) rotate(15.69)" fill="#a8744a" opacity="0.82"/>
<ellipse cx="0" cy="0" rx="2.28" ry="1.82" transform="translate(326.5 294.2) rotate(43.53)" fill="url(#cellg)"/>
<ellipse cx="0" cy="0" rx="3.46" ry="2.54" transform="translate(332.5 296) rotate(136.45)" fill="#a8744a" opacity="0.82"/>
<ellipse cx="0" cy="0" rx="2.09" ry="1.54" transform="translate(332.5 296) rotate(121.23)" fill="url(#cellg)"/>
<ellipse cx="0" cy="0" rx="3.72" ry="2.67" transform="translate(307.3 304.4) rotate(18.19)" fill="#a8744a" opacity="0.82"/>
<ellipse cx="0" cy="0" rx="2.28" ry="1.64" transform="translate(307.3 304.4) rotate(36.01)" fill="url(#cellg)"/>
<ellipse cx="0" cy="0" rx="3.2" ry="2.78" transform="translate(310.9 301.4) rotate(31.98)" fill="#a8744a" opacity="0.82"/>
<ellipse cx="0" cy="0" rx="1.9" ry="1.65" transform="translate(310.9 301.4) rotate(28.83)" fill="url(#cellg)"/>
<ellipse cx="0" cy="0" rx="3.2" ry="2.94" transform="translate(303.7 299) rotate(34.32)" fill="#a8744a" opacity="0.82"/>
<ellipse cx="0" cy="0" rx="1.9" ry="1.75" transform="translate(303.7 299) rotate(12.18)" fill="url(#cellg)"/>
<ellipse cx="0" cy="0" rx="3.46" ry="2.54" transform="translate(295.2 295.4) rotate(115.87)" fill="#a8744a" opacity="0.82"/>
<ellipse cx="0" cy="0" rx="2.09" ry="1.54" transform="translate(295.2 295.4) rotate(111.11)" fill="url(#cellg)"/>
<ellipse cx="0" cy="0" rx="3.2" ry="2.5" transform="translate(289.2 301.4) rotate(38.32)" fill="#a8744a" opacity="0.82"/>
<ellipse cx="0" cy="0" rx="1.9" ry="1.48" transform="translate(289.2 301.4) rotate(66.57)" fill="url(#cellg)"/>
<ellipse cx="0" cy="0" rx="3.2" ry="2.53" transform="translate(296.4 306.2) rotate(144.61)" fill="#a8744a" opacity="0.82"/>
<ellipse cx="0" cy="0" rx="1.9" ry="1.5" transform="translate(296.4 306.2) rotate(167.71)" fill="url(#cellg)"/>
<ellipse cx="0" cy="0" rx="3.2" ry="2.62" transform="translate(318.1 306.2) rotate(37.93)" fill="#a8744a" opacity="0.82"/>
<ellipse cx="0" cy="0" rx="1.9" ry="1.55" transform="translate(318.1 306.2) rotate(59.19)" fill="url(#cellg)"/>
<ellipse cx="0" cy="0" rx="3.2" ry="2.34" transform="translate(332.5 303.8) rotate(115.53)" fill="#a8744a" opacity="0.82"/>
<ellipse cx="0" cy="0" rx="1.9" ry="1.39" transform="translate(332.5 303.8) rotate(144.89)" fill="url(#cellg)"/>
<ellipse cx="0" cy="0" rx="3.2" ry="2.49" transform="translate(310.9 291.2) rotate(38.38)" fill="#a8744a" opacity="0.82"/>
<ellipse cx="0" cy="0" rx="1.9" ry="1.48" transform="translate(310.9 291.2) rotate(54.75)" fill="url(#cellg)"/>
<ellipse cx="0" cy="0" rx="3.2" ry="2.52" transform="translate(316.9 258.1) rotate(59.21)" fill="#a8744a" opacity="0.82"/>
<ellipse cx="0" cy="0" rx="1.9" ry="1.5" transform="translate(316.9 258.1) rotate(33.62)" fill="url(#cellg)"/>
<ellipse cx="0" cy="0" rx="2.94" ry="2.57" transform="translate(308.8 228.7) rotate(16.22)" fill="#a8744a" opacity="0.82"/>
<ellipse cx="0" cy="0" rx="1.71" ry="1.5" transform="translate(308.8 228.7) rotate(0.8)" fill="url(#cellg)"/>
<ellipse cx="0" cy="0" rx="2.94" ry="2.39" transform="translate(312.1 231.5) rotate(108.23)" fill="#a8744a" opacity="0.82"/>
<ellipse cx="0" cy="0" rx="1.71" ry="1.39" transform="translate(312.1 231.5) rotate(105.42)" fill="url(#cellg)"/>
<ellipse cx="0" cy="0" rx="3.2" ry="2.7" transform="translate(380.1 231) rotate(172.64)" fill="#a8744a" opacity="0.82"/>
<ellipse cx="0" cy="0" rx="1.9" ry="1.61" transform="translate(380.1 231) rotate(177.12)" fill="url(#cellg)"/>
<ellipse cx="0" cy="0" rx="3.72" ry="2.81" transform="translate(389.7 240) rotate(155.97)" fill="#a8744a" opacity="0.82"/>
<ellipse cx="0" cy="0" rx="2.28" ry="1.72" transform="translate(389.7 240) rotate(135.22)" fill="url(#cellg)"/>
<ellipse cx="0" cy="0" rx="3.46" ry="3.27" transform="translate(391 244.9) rotate(163.52)" fill="#a8744a" opacity="0.82"/>
<ellipse cx="0" cy="0" rx="2.09" ry="1.98" transform="translate(391 244.9) rotate(148.49)" fill="url(#cellg)"/>
<ellipse cx="0" cy="0" rx="3.72" ry="3.43" transform="translate(377.1 284.6) rotate(34.16)" fill="#a8744a" opacity="0.82"/>
<ellipse cx="0" cy="0" rx="2.28" ry="2.1" transform="translate(377.1 284.6) rotate(60.59)" fill="url(#cellg)"/>
<ellipse cx="0" cy="0" rx="4.24" ry="4.18" transform="translate(357.9 294.2) rotate(35.39)" fill="#a8744a" opacity="0.82"/>
<ellipse cx="0" cy="0" rx="2.66" ry="2.62" transform="translate(357.9 294.2) rotate(58.32)" fill="url(#cellg)"/>
<ellipse cx="0" cy="0" rx="4.24" ry="3.5" transform="translate(371.1 294.8) rotate(108.64)" fill="#a8744a" opacity="0.82"/>
<ellipse cx="0" cy="0" rx="2.66" ry="2.2" transform="translate(371.1 294.8) rotate(84.87)" fill="url(#cellg)"/>
<ellipse cx="0" cy="0" rx="3.98" ry="3.94" transform="translate(380.7 293) rotate(6.97)" fill="#a8744a" opacity="0.82"/>
<ellipse cx="0" cy="0" rx="2.47" ry="2.44" transform="translate(380.7 293) rotate(-8.73)" fill="url(#cellg)"/>
<ellipse cx="0" cy="0" rx="3.72" ry="2.89" transform="translate(347.6 306.2) rotate(126.82)" fill="#a8744a" opacity="0.82"/>
<ellipse cx="0" cy="0" rx="2.28" ry="1.77" transform="translate(347.6 306.2) rotate(146.25)" fill="url(#cellg)"/>
<ellipse cx="0" cy="0" rx="3.2" ry="2.52" transform="translate(342.2 282.2) rotate(107.36)" fill="#a8744a" opacity="0.82"/>
<ellipse cx="0" cy="0" rx="1.9" ry="1.5" transform="translate(342.2 282.2) rotate(87.89)" fill="url(#cellg)"/>
<ellipse cx="0" cy="0" rx="3.2" ry="2.31" transform="translate(391 282.2) rotate(129.66)" fill="#a8744a" opacity="0.82"/>
<ellipse cx="0" cy="0" rx="1.9" ry="1.37" transform="translate(391 282.2) rotate(113.37)" fill="url(#cellg)"/>
<ellipse cx="0" cy="0" rx="2.68" ry="2.56" transform="translate(352.4 250.3) rotate(100.69)" fill="#a8744a" opacity="0.82"/>
<ellipse cx="0" cy="0" rx="1.52" ry="1.45" transform="translate(352.4 250.3) rotate(107.54)" fill="url(#cellg)"/>
<ellipse cx="0" cy="0" rx="3.2" ry="3.12" transform="translate(386 300) rotate(50.44)" fill="#a8744a" opacity="0.82"/>
<ellipse cx="0" cy="0" rx="1.9" ry="1.85" transform="translate(386 300) rotate(32.68)" fill="url(#cellg)"/>
<ellipse cx="0" cy="0" rx="3.2" ry="2.5" transform="translate(362 305) rotate(2.98)" fill="#a8744a" opacity="0.82"/>
<ellipse cx="0" cy="0" rx="1.9" ry="1.48" transform="translate(362 305) rotate(-0.27)" fill="url(#cellg)"/>
<ellipse cx="0" cy="0" rx="3.2" ry="2.41" transform="translate(345 296) rotate(10.88)" fill="#a8744a" opacity="0.82"/>
<ellipse cx="0" cy="0" rx="1.9" ry="1.43" transform="translate(345 296) rotate(3.01)" fill="url(#cellg)"/>
<ellipse cx="0" cy="0" rx="2.94" ry="2.17" transform="translate(388 262) rotate(102.99)" fill="#a8744a" opacity="0.82"/>
<ellipse cx="0" cy="0" rx="1.71" ry="1.26" transform="translate(388 262) rotate(94.72)" fill="url(#cellg)"/>
<ellipse cx="0" cy="0" rx="2.68" ry="2.66" transform="translate(370 272) rotate(160.37)" fill="#a8744a" opacity="0.82"/>
<ellipse cx="0" cy="0" rx="1.52" ry="1.51" transform="translate(370 272) rotate(169.79)" fill="url(#cellg)"/>
<ellipse cx="0" cy="0" rx="2.68" ry="2.35" transform="translate(340 240) rotate(124.42)" fill="#a8744a" opacity="0.82"/>
<ellipse cx="0" cy="0" rx="1.52" ry="1.33" transform="translate(340 240) rotate(102.84)" fill="url(#cellg)"/>
<ellipse cx="0" cy="0" rx="2.68" ry="1.89" transform="translate(350 232) rotate(6.31)" fill="#a8744a" opacity="0.82"/>
<ellipse cx="0" cy="0" rx="1.52" ry="1.07" transform="translate(350 232) rotate(30.93)" fill="url(#cellg)"/>
<ellipse cx="0" cy="0" rx="2.68" ry="2.65" transform="translate(366 228) rotate(126.17)" fill="#a8744a" opacity="0.82"/>
<ellipse cx="0" cy="0" rx="1.52" ry="1.5" transform="translate(366 228) rotate(97.45)" fill="url(#cellg)"/>
<ellipse cx="0" cy="0" rx="2.94" ry="2.48" transform="translate(286 245) rotate(114.51)" fill="#a8744a" opacity="0.82"/>
<ellipse cx="0" cy="0" rx="1.71" ry="1.44" transform="translate(286 245) rotate(128.34)" fill="url(#cellg)"/>
<ellipse cx="0" cy="0" rx="2.68" ry="2.68" transform="translate(300 244) rotate(57.4)" fill="#a8744a" opacity="0.82"/>
<ellipse cx="0" cy="0" rx="1.52" ry="1.52" transform="translate(300 244) rotate(31.92)" fill="url(#cellg)"/>
<ellipse cx="0" cy="0" rx="2.68" ry="2.47" transform="translate(325 262) rotate(98.3)" fill="#a8744a" opacity="0.82"/>
<ellipse cx="0" cy="0" rx="1.52" ry="1.4" transform="translate(325 262) rotate(122.31)" fill="url(#cellg)"/>
<ellipse cx="0" cy="0" rx="2.68" ry="2.44" transform="translate(337 270) rotate(132.68)" fill="#a8744a" opacity="0.82"/>
<ellipse cx="0" cy="0" rx="1.52" ry="1.38" transform="translate(337 270) rotate(150.27)" fill="url(#cellg)"/>
<ellipse cx="0" cy="0" rx="2.94" ry="2.37" transform="translate(355 285) rotate(164.7)" fill="#a8744a" opacity="0.82"/>
<ellipse cx="0" cy="0" rx="1.71" ry="1.38" transform="translate(355 285) rotate(175.81)" fill="url(#cellg)"/>
<ellipse cx="0" cy="0" rx="2.68" ry="2.58" transform="translate(366 282) rotate(162.15)" fill="#a8744a" opacity="0.82"/>
<ellipse cx="0" cy="0" rx="1.52" ry="1.46" transform="translate(366 282) rotate(157.18)" fill="url(#cellg)"/>
<ellipse cx="0" cy="0" rx="2.68" ry="2.57" transform="translate(384 272) rotate(142.3)" fill="#a8744a" opacity="0.82"/>
<ellipse cx="0" cy="0" rx="1.52" ry="1.46" transform="translate(384 272) rotate(146.66)" fill="url(#cellg)"/>
<ellipse cx="0" cy="0" rx="3.2" ry="2.61" transform="translate(287 288) rotate(112.49)" fill="#a8744a" opacity="0.82"/>
<ellipse cx="0" cy="0" rx="1.9" ry="1.55" transform="translate(287 288) rotate(117.45)" fill="url(#cellg)"/>
<ellipse cx="0" cy="0" rx="2.94" ry="2.13" transform="translate(300 285) rotate(109.6)" fill="#a8744a" opacity="0.82"/>
<ellipse cx="0" cy="0" rx="1.71" ry="1.24" transform="translate(300 285) rotate(117.96)" fill="url(#cellg)"/>
<ellipse cx="0" cy="0" rx="2.94" ry="2.83" transform="translate(316 284) rotate(178.8)" fill="#a8744a" opacity="0.82"/>
<ellipse cx="0" cy="0" rx="1.71" ry="1.65" transform="translate(316 284) rotate(192.49)" fill="url(#cellg)"/>
<ellipse cx="0" cy="0" rx="3.2" ry="2.95" transform="translate(338 305) rotate(69.92)" fill="#a8744a" opacity="0.82"/>
<ellipse cx="0" cy="0" rx="1.9" ry="1.75" transform="translate(338 305) rotate(74.78)" fill="url(#cellg)"/>
<ellipse cx="0" cy="0" rx="2.94" ry="2.8" transform="translate(352 300) rotate(79.29)" fill="#a8744a" opacity="0.82"/>
<ellipse cx="0" cy="0" rx="1.71" ry="1.63" transform="translate(352 300) rotate(54.32)" fill="url(#cellg)"/>
<ellipse cx="0" cy="0" rx="2.94" ry="2.08" transform="translate(375 306) rotate(135.04)" fill="#a8744a" opacity="0.82"/>
<ellipse cx="0" cy="0" rx="1.71" ry="1.21" transform="translate(375 306) rotate(141.11)" fill="url(#cellg)"/>
<ellipse cx="0" cy="0" rx="2.94" ry="2.26" transform="translate(390 293) rotate(86.57)" fill="#a8744a" opacity="0.82"/>
<ellipse cx="0" cy="0" rx="1.71" ry="1.32" transform="translate(390 293) rotate(98.47)" fill="url(#cellg)"/>
<ellipse cx="0" cy="0" rx="2.68" ry="2.37" transform="translate(296 226.5) rotate(89.51)" fill="#a8744a" opacity="0.82"/>
<ellipse cx="0" cy="0" rx="1.52" ry="1.34" transform="translate(296 226.5) rotate(114.73)" fill="url(#cellg)"/>
<ellipse cx="0" cy="0" rx="2.68" ry="1.89" transform="translate(322 228) rotate(46.05)" fill="#a8744a" opacity="0.82"/>
<ellipse cx="0" cy="0" rx="1.52" ry="1.07" transform="translate(322 228) rotate(34.11)" fill="url(#cellg)"/>
<ellipse cx="0" cy="0" rx="2.55" ry="1.94" transform="translate(345 228) rotate(122.06)" fill="#a8744a" opacity="0.82"/>
<ellipse cx="0" cy="0" rx="1.42" ry="1.08" transform="translate(345 228) rotate(102.24)" fill="url(#cellg)"/>
<ellipse cx="0" cy="0" rx="2.55" ry="2.29" transform="translate(374 240) rotate(163.03)" fill="#a8744a" opacity="0.82"/>
<ellipse cx="0" cy="0" rx="1.42" ry="1.28" transform="translate(374 240) rotate(159.55)" fill="url(#cellg)"/>
<ellipse cx="0" cy="0" rx="2.68" ry="2.14" transform="translate(392 256) rotate(160.51)" fill="#a8744a" opacity="0.82"/>
<ellipse cx="0" cy="0" rx="1.52" ry="1.21" transform="translate(392 256) rotate(170.46)" fill="url(#cellg)"/>
<ellipse cx="0" cy="0" rx="2.94" ry="2.44" transform="translate(288 268) rotate(35.73)" fill="#a8744a" opacity="0.82"/>
<ellipse cx="0" cy="0" rx="1.71" ry="1.42" transform="translate(288 268) rotate(54.09)" fill="url(#cellg)"/>
<ellipse cx="0" cy="0" rx="2.55" ry="2.46" transform="translate(305 262) rotate(164.56)" fill="#a8744a" opacity="0.82"/>
<ellipse cx="0" cy="0" rx="1.42" ry="1.37" transform="translate(305 262) rotate(157.62)" fill="url(#cellg)"/>
<circle cx="348.14" cy="252.13" r="0.68" fill="#5a4a58" opacity="0.7"/>
<circle cx="322.58" cy="302.69" r="0.62" fill="#7a5a48" opacity="0.7"/>
<circle cx="388.5" cy="248.66" r="0.7" fill="#5a4a58" opacity="0.7"/>
<circle cx="335.85" cy="305.32" r="1.1" fill="#5a4a58" opacity="0.7"/>
<circle cx="352.83" cy="267.62" r="0.79" fill="#8a6a50" opacity="0.7"/>
<circle cx="333.77" cy="231.02" r="0.62" fill="#8a6a50" opacity="0.7"/>
<circle cx="288.56" cy="286.36" r="0.94" fill="#5a4a58" opacity="0.7"/>
<circle cx="355.42" cy="273.74" r="0.98" fill="#5a4a58" opacity="0.7"/>
<circle cx="334.03" cy="226.66" r="1.1" fill="#7a5a48" opacity="0.7"/>
<circle cx="369.72" cy="294.06" r="1.19" fill="#7a5a48" opacity="0.7"/>
<circle cx="333.11" cy="279.5" r="0.99" fill="#5a4a58" opacity="0.7"/>
<circle cx="389.43" cy="284.26" r="0.72" fill="#5a4a58" opacity="0.7"/>
<circle cx="312.16" cy="286.85" r="1.05" fill="#8a6a50" opacity="0.7"/>
<circle cx="362.56" cy="240.14" r="0.76" fill="#5a4a58" opacity="0.7"/>
<circle cx="343.37" cy="307.16" r="0.9" fill="#7a5a48" opacity="0.7"/>
<circle cx="327.29" cy="293.64" r="1.14" fill="#7a5a48" opacity="0.7"/>
<circle cx="329.15" cy="302.43" r="0.83" fill="#5a4a58" opacity="0.7"/>
<circle cx="333.89" cy="279.11" r="1.15" fill="#5a4a58" opacity="0.7"/>
<circle cx="344.5" cy="281.48" r="0.9" fill="#5a4a58" opacity="0.7"/>
<circle cx="335.01" cy="281.36" r="0.72" fill="#8a6a50" opacity="0.7"/>
<circle cx="379.28" cy="294.19" r="1.15" fill="#7a5a48" opacity="0.7"/>
<circle cx="307.46" cy="303.07" r="1.19" fill="#5a4a58" opacity="0.7"/>
<circle cx="343.07" cy="293.54" r="0.79" fill="#8a6a50" opacity="0.7"/>
<circle cx="378.14" cy="254.92" r="0.65" fill="#5a4a58" opacity="0.7"/>
<circle cx="321.63" cy="261.29" r="0.77" fill="#7a5a48" opacity="0.7"/>
<circle cx="308.01" cy="300.24" r="0.86" fill="#7a5a48" opacity="0.7"/>
<circle cx="303.02" cy="253.75" r="1.07" fill="#7a5a48" opacity="0.7"/>
<circle cx="335.76" cy="311.78" r="1.14" fill="#8a6a50" opacity="0.7"/>
<circle cx="376.4" cy="284.68" r="1.17" fill="#5a4a58" opacity="0.7"/>
<circle cx="347.68" cy="284.66" r="1.05" fill="#5a4a58" opacity="0.7"/>
<circle cx="341.93" cy="249.83" r="1.04" fill="#8a6a50" opacity="0.7"/>
<circle cx="302.08" cy="269.39" r="1.14" fill="#5a4a58" opacity="0.7"/>
<circle cx="318.29" cy="257.78" r="1.11" fill="#8a6a50" opacity="0.7"/>
<circle cx="306.91" cy="298.77" r="1.18" fill="#8a6a50" opacity="0.7"/>
<circle cx="314.03" cy="267.94" r="0.85" fill="#7a5a48" opacity="0.7"/>
<circle cx="339.35" cy="277.34" r="0.62" fill="#7a5a48" opacity="0.7"/>
<circle cx="340.76" cy="259.47" r="1.08" fill="#8a6a50" opacity="0.7"/>
<circle cx="297.41" cy="232.64" r="0.7" fill="#8a6a50" opacity="0.7"/>
<circle cx="334.48" cy="304.88" r="1.08" fill="#5a4a58" opacity="0.7"/>
<circle cx="313.61" cy="265.81" r="0.68" fill="#5a4a58" opacity="0.7"/>
<circle cx="383.1" cy="306.19" r="1.15" fill="#8a6a50" opacity="0.7"/>
<circle cx="318.89" cy="241.21" r="0.97" fill="#5a4a58" opacity="0.7"/>
<circle cx="298.24" cy="292.53" r="0.61" fill="#7a5a48" opacity="0.7"/>
<circle cx="301.11" cy="225.53" r="0.77" fill="#8a6a50" opacity="0.7"/>
<circle cx="323.09" cy="278.61" r="0.66" fill="#8a6a50" opacity="0.7"/>
<circle cx="348.05" cy="298.87" r="0.97" fill="#8a6a50" opacity="0.7"/>
<circle cx="305.75" cy="270.8" r="0.86" fill="#5a4a58" opacity="0.7"/>
<circle cx="353.63" cy="296.54" r="0.97" fill="#8a6a50" opacity="0.7"/>
<circle cx="306.47" cy="279.61" r="0.98" fill="#8a6a50" opacity="0.7"/>
<circle cx="307.78" cy="271.9" r="0.95" fill="#7a5a48" opacity="0.7"/>
<circle cx="309.59" cy="289.17" r="1.09" fill="#7a5a48" opacity="0.7"/>
<circle cx="318.75" cy="252" r="1.15" fill="#7a5a48" opacity="0.7"/>
<circle cx="369.61" cy="241.48" r="0.66" fill="#7a5a48" opacity="0.7"/>
<circle cx="298.58" cy="232.2" r="0.83" fill="#5a4a58" opacity="0.7"/>
<circle cx="375.54" cy="261.31" r="1.07" fill="#7a5a48" opacity="0.7"/>
<circle cx="306.07" cy="279.32" r="1.08" fill="#7a5a48" opacity="0.7"/>
<circle cx="306.1" cy="284.07" r="1.15" fill="#5a4a58" opacity="0.7"/>
<circle cx="296.7" cy="268.65" r="1.05" fill="#8a6a50" opacity="0.7"/>
<circle cx="393.84" cy="297.22" r="1.08" fill="#5a4a58" opacity="0.7"/>
<circle cx="295.68" cy="227.77" r="0.93" fill="#8a6a50" opacity="0.7"/>
<circle cx="383.56" cy="266.52" r="0.71" fill="#7a5a48" opacity="0.7"/>
<circle cx="306.43" cy="297.85" r="1.19" fill="#8a6a50" opacity="0.7"/>
<circle cx="294.48" cy="229.91" r="1.17" fill="#5a4a58" opacity="0.7"/>
<circle cx="292.54" cy="232.94" r="0.83" fill="#5a4a58" opacity="0.7"/>
<circle cx="340.68" cy="262.05" r="0.96" fill="#7a5a48" opacity="0.7"/>
<circle cx="353.74" cy="228.07" r="0.72" fill="#5a4a58" opacity="0.7"/>
<circle cx="333.93" cy="289.04" r="0.84" fill="#7a5a48" opacity="0.7"/>
<circle cx="350.54" cy="232.78" r="1.08" fill="#5a4a58" opacity="0.7"/>
<circle cx="382.25" cy="294.49" r="1.02" fill="#8a6a50" opacity="0.7"/>
<circle cx="387.35" cy="274.23" r="0.71" fill="#8a6a50" opacity="0.7"/>
</g>
<line x1="372" y1="305" x2="393" y2="302.5" stroke="#f4f4f8" stroke-width="1.2"/>
</g>
<clipPath id="cr"><rect x="397" y="225" width="109.3" height="86.3"/></clipPath>
<g clip-path="url(#cr)">
<rect x="397" y="225" width="109.3" height="86.3" fill="#c8c7d8"/>
<rect x="397" y="225" width="109.3" height="86.3" filter="url(#spk4)"/>
<rect x="397" y="225" width="109.3" height="86.3" filter="url(#spk3)" opacity="0.7"/>
<path d="M397 225 H425 Q414 233 405 243 Q400 249 397 254 Z" fill="#c2c2d2" opacity="0.92"/>
<path d="M397 225 H412 Q403 232 397 240 Z" fill="#c9c9d6" opacity="0.7"/>
<ellipse cx="503" cy="229" rx="24" ry="13" fill="#8a8aae" opacity="0.28"/>
<ellipse cx="487" cy="242" rx="8" ry="3.5" fill="#eeeef4" opacity="0.5"/>
<ellipse cx="475.4" cy="258" rx="6" ry="4" fill="#eeeef4" opacity="0.4"/>
<ellipse cx="424.6" cy="266" rx="6" ry="3" fill="#eeeef4" opacity="0.5"/>
<ellipse cx="404" cy="280" rx="4" ry="3" fill="#eeeef4" opacity="0.45"/>
<ellipse cx="470" cy="232" rx="5" ry="2.5" fill="#eeeef4" opacity="0.35"/>
<ellipse cx="445" cy="283" rx="5" ry="2.5" fill="#eeeef4" opacity="0.3"/>
<ellipse cx="430" cy="244" rx="4" ry="2" fill="#eeeef4" opacity="0.35"/>
<circle cx="421.5" cy="234.7" r="0.88" fill="#4a3430" opacity="0.9"/>
<circle cx="420.9" cy="243.7" r="1.04" fill="#4a3430" opacity="0.9"/>
<circle cx="423" cy="259.3" r="1.04" fill="#4a3430" opacity="0.9"/>
<circle cx="408.5" cy="267.1" r="0.96" fill="#4a3430" opacity="0.9"/>
<circle cx="401.6" cy="277.4" r="0.96" fill="#4a3430" opacity="0.9"/>
<circle cx="403.4" cy="295.4" r="0.96" fill="#4a3430" opacity="0.9"/>
<circle cx="407.6" cy="296" r="0.96" fill="#4a3430" opacity="0.9"/>
<circle cx="416.4" cy="304.1" r="0.96" fill="#4a3430" opacity="0.9"/>
<circle cx="441.9" cy="254.5" r="1.44" fill="#4a3430" opacity="0.9"/>
<circle cx="451.6" cy="234" r="0.96" fill="#4a3430" opacity="0.9"/>
<circle cx="457.8" cy="240" r="1.2" fill="#4a3430" opacity="0.9"/>
<circle cx="463.2" cy="250.9" r="1.04" fill="#4a3430" opacity="0.9"/>
<circle cx="458.4" cy="248.5" r="0.8" fill="#4a3430" opacity="0.9"/>
<circle cx="472.9" cy="270.1" r="1.04" fill="#4a3430" opacity="0.9"/>
<circle cx="463.8" cy="284.6" r="1.28" fill="#4a3430" opacity="0.9"/>
<circle cx="472.3" cy="308" r="0.88" fill="#4a3430" opacity="0.9"/>
<circle cx="481.5" cy="309.8" r="1.12" fill="#4a3430" opacity="0.9"/>
<circle cx="451.8" cy="234" r="0.8" fill="#4a3430" opacity="0.9"/>
<circle cx="477.1" cy="225.6" r="0.8" fill="#4a3430" opacity="0.9"/>
<circle cx="485.5" cy="227.4" r="0.8" fill="#4a3430" opacity="0.9"/>
<circle cx="479.5" cy="297.8" r="0.72" fill="#4a3430" opacity="0.9"/>
<circle cx="406.4" cy="310.4" r="0.88" fill="#4a3430" opacity="0.9"/>
<rect x="400" y="226.4" width="10" height="1.6" fill="#555" opacity="0.55"/>
</g>
<circle cx="359.4" cy="239.8" r="3.6" fill="#f0e6e6"/>
<circle cx="359.4" cy="239.8" r="2.8" fill="url(#cellg)" stroke="#c83a3a" stroke-width="0.8"/>
<line x1="359.4" y1="243.3" x2="359.4" y2="255.5" stroke="#d03a3a" stroke-width="0.9"/>
<rect x="333.8" y="255.2" width="50.5" height="11" fill="#d24a48"/>
<text x="335.2" y="263.8" font-size="7.2" text-anchor="start" fill="#fff" font-weight="normal" textLength="45.5" lengthAdjust="spacingAndGlyphs">megakaryocytes</text>
<text x="8.3" y="382.2" font-size="12.6" text-anchor="start" fill="#111" font-weight="bold" stroke="#111" stroke-width="0.35">E</text>
<line x1="64.3" y1="389.2" x2="64.3" y2="512.85" stroke="#1a1a1a" stroke-width="1.1"/>
<line x1="63.75" y1="512.3" x2="246" y2="512.3" stroke="#1a1a1a" stroke-width="1.1"/>
<line x1="61.1" y1="512.3" x2="64.3" y2="512.3" stroke="#1a1a1a" stroke-width="1.1"/>
<text x="57.7" y="514.9" font-size="8.8" text-anchor="end" fill="#2b2b2b" font-weight="normal">0</text>
<line x1="61.1" y1="492.35" x2="64.3" y2="492.35" stroke="#1a1a1a" stroke-width="1.1"/>
<text x="57.7" y="494.95" font-size="8.8" text-anchor="end" fill="#2b2b2b" font-weight="normal">1000</text>
<line x1="61.1" y1="472.4" x2="64.3" y2="472.4" stroke="#1a1a1a" stroke-width="1.1"/>
<text x="57.7" y="475" font-size="8.8" text-anchor="end" fill="#2b2b2b" font-weight="normal">2000</text>
<line x1="61.1" y1="452.45" x2="64.3" y2="452.45" stroke="#1a1a1a" stroke-width="1.1"/>
<text x="57.7" y="455.05" font-size="8.8" text-anchor="end" fill="#2b2b2b" font-weight="normal">3000</text>
<line x1="61.1" y1="432.5" x2="64.3" y2="432.5" stroke="#1a1a1a" stroke-width="1.1"/>
<text x="57.7" y="435.1" font-size="8.8" text-anchor="end" fill="#2b2b2b" font-weight="normal">4000</text>
<line x1="61.1" y1="412.55" x2="64.3" y2="412.55" stroke="#1a1a1a" stroke-width="1.1"/>
<text x="57.7" y="415.15" font-size="8.8" text-anchor="end" fill="#2b2b2b" font-weight="normal">5000</text>
<line x1="61.1" y1="392.6" x2="64.3" y2="392.6" stroke="#1a1a1a" stroke-width="1.1"/>
<text x="57.7" y="395.2" font-size="8.8" text-anchor="end" fill="#2b2b2b" font-weight="normal">6000</text>
<line x1="64.3" y1="512.3" x2="64.3" y2="515.5" stroke="#1a1a1a" stroke-width="1.1"/>
<text x="64.3" y="526.9" font-size="8.8" text-anchor="middle" fill="#2b2b2b" font-weight="normal">0</text>
<line x1="94.34" y1="512.3" x2="94.34" y2="515.5" stroke="#1a1a1a" stroke-width="1.1"/>
<text x="94.34" y="526.9" font-size="8.8" text-anchor="middle" fill="#2b2b2b" font-weight="normal">2</text>
<line x1="124.38" y1="512.3" x2="124.38" y2="515.5" stroke="#1a1a1a" stroke-width="1.1"/>
<text x="124.38" y="526.9" font-size="8.8" text-anchor="middle" fill="#2b2b2b" font-weight="normal">4</text>
<line x1="154.42" y1="512.3" x2="154.42" y2="515.5" stroke="#1a1a1a" stroke-width="1.1"/>
<text x="154.42" y="526.9" font-size="8.8" text-anchor="middle" fill="#2b2b2b" font-weight="normal">6</text>
<line x1="184.46" y1="512.3" x2="184.46" y2="515.5" stroke="#1a1a1a" stroke-width="1.1"/>
<text x="184.46" y="526.9" font-size="8.8" text-anchor="middle" fill="#2b2b2b" font-weight="normal">8</text>
<line x1="214.5" y1="512.3" x2="214.5" y2="515.5" stroke="#1a1a1a" stroke-width="1.1"/>
<text x="214.5" y="526.9" font-size="8.8" text-anchor="middle" fill="#2b2b2b" font-weight="normal">10</text>
<line x1="244.54" y1="512.3" x2="244.54" y2="515.5" stroke="#1a1a1a" stroke-width="1.1"/>
<text x="244.54" y="526.9" font-size="8.8" text-anchor="middle" fill="#2b2b2b" font-weight="normal">12</text>
<text x="79.2" y="541.4" font-size="10.6" text-anchor="start" fill="#2b2b2b" font-weight="normal" textLength="154" lengthAdjust="spacingAndGlyphs" stroke="#2b2b2b" stroke-width="0.3">Time after treatment discontinuation (wk)</text>
<text transform="translate(31.9 450.55) rotate(-90)" x="0" y="0" font-size="11" text-anchor="middle" fill="#2b2b2b" stroke="#2b2b2b" stroke-width="0.15" textLength="92.9" lengthAdjust="spacingAndGlyphs">Platelets (× 10³ cells/µL)</text>
<path d="M64.3 489.2 L124.38 484.4 L169.44 490.4 L214.5 463.1" fill="none" stroke="#234266" stroke-width="1.25"/>
<line x1="169.44" y1="487.1" x2="169.44" y2="493.8" stroke="#234266" stroke-width="1"/>
<line x1="167.24" y1="487.1" x2="171.64" y2="487.1" stroke="#234266" stroke-width="1"/>
<line x1="167.24" y1="493.8" x2="171.64" y2="493.8" stroke="#234266" stroke-width="1"/>
<line x1="214.5" y1="456.3" x2="214.5" y2="470.2" stroke="#234266" stroke-width="1"/>
<line x1="212.3" y1="456.3" x2="216.7" y2="456.3" stroke="#234266" stroke-width="1"/>
<line x1="212.3" y1="470.2" x2="216.7" y2="470.2" stroke="#234266" stroke-width="1"/>
<circle cx="64.3" cy="489.2" r="2.4" fill="#173f66"/>
<circle cx="124.38" cy="484.4" r="2.4" fill="#173f66"/>
<circle cx="169.44" cy="490.4" r="2.4" fill="#173f66"/>
<circle cx="214.5" cy="463.1" r="2.4" fill="#173f66"/>
<path d="M64.3 459.8 L124.38 447.5 L169.44 448.5 L214.5 429.4" fill="none" stroke="#a0253e" stroke-width="1.25" stroke-dasharray="4.6 3.6"/>
<line x1="64.3" y1="451.2" x2="64.3" y2="467.7" stroke="#a0253e" stroke-width="1"/>
<line x1="62.1" y1="451.2" x2="66.5" y2="451.2" stroke="#a0253e" stroke-width="1"/>
<line x1="62.1" y1="467.7" x2="66.5" y2="467.7" stroke="#a0253e" stroke-width="1"/>
<line x1="124.38" y1="434.4" x2="124.38" y2="460.4" stroke="#a0253e" stroke-width="1"/>
<line x1="122.18" y1="434.4" x2="126.58" y2="434.4" stroke="#a0253e" stroke-width="1"/>
<line x1="122.18" y1="460.4" x2="126.58" y2="460.4" stroke="#a0253e" stroke-width="1"/>
<line x1="169.44" y1="430.4" x2="169.44" y2="466.3" stroke="#a0253e" stroke-width="1"/>
<line x1="167.24" y1="430.4" x2="171.64" y2="430.4" stroke="#a0253e" stroke-width="1"/>
<line x1="167.24" y1="466.3" x2="171.64" y2="466.3" stroke="#a0253e" stroke-width="1"/>
<line x1="214.5" y1="408.7" x2="214.5" y2="450.4" stroke="#a0253e" stroke-width="1"/>
<line x1="212.3" y1="408.7" x2="216.7" y2="408.7" stroke="#a0253e" stroke-width="1"/>
<line x1="212.3" y1="450.4" x2="216.7" y2="450.4" stroke="#a0253e" stroke-width="1"/>
<circle cx="64.3" cy="459.8" r="2.4" fill="#c20f2e"/>
<circle cx="124.38" cy="447.5" r="2.4" fill="#c20f2e"/>
<circle cx="169.44" cy="448.5" r="2.4" fill="#c20f2e"/>
<circle cx="214.5" cy="429.4" r="2.4" fill="#c20f2e"/>
<line x1="67.7" y1="393.5" x2="79.7" y2="393.5" stroke="#a0253e" stroke-width="1.2" stroke-dasharray="2.6 2.2"/>
<circle cx="73.7" cy="393.5" r="2.2" fill="#c20f2e"/>
<text x="83.8" y="396.5" font-size="8.7" text-anchor="start" fill="#2b2b2b" font-weight="normal" textLength="28.6" lengthAdjust="spacingAndGlyphs">Isotype</text>
<line x1="67.7" y1="406.5" x2="79.7" y2="406.5" stroke="#234266" stroke-width="1.2"/>
<circle cx="73.7" cy="406.5" r="2.2" fill="#173f66"/>
<text x="83.8" y="409.4" font-size="8.7" text-anchor="start" fill="#2b2b2b" font-weight="normal" textLength="125.8" lengthAdjust="spacingAndGlyphs">INCA033989 (mouse surrogate)</text>
<line x1="227.5" y1="429.5" x2="227.5" y2="462.5" stroke="#222" stroke-width="1"/>
<line x1="223.1" y1="429.5" x2="233.1" y2="429.5" stroke="#222" stroke-width="1"/>
<line x1="223.1" y1="462.5" x2="233.1" y2="462.5" stroke="#222" stroke-width="1"/>
<path d="M233.2 443.25L233.2 445.95M232.03 443.93L234.37 445.28M234.37 443.93L232.03 445.28M237.3 443.25L237.3 445.95M236.13 443.93L238.47 445.28M238.47 443.93L236.13 445.28" stroke="#1a1a1a" stroke-width="0.95" stroke-linecap="round" fill="none"/>
<text x="272.2" y="382.5" font-size="12.6" text-anchor="start" fill="#111" font-weight="bold" stroke="#111" stroke-width="0.35">F</text>
<line x1="318.3" y1="396.7" x2="318.3" y2="512.85" stroke="#1a1a1a" stroke-width="1.1"/>
<line x1="317.75" y1="512.3" x2="490" y2="512.3" stroke="#1a1a1a" stroke-width="1.1"/>
<line x1="315.1" y1="512.3" x2="318.3" y2="512.3" stroke="#1a1a1a" stroke-width="1.1"/>
<text x="312.3" y="514.9" font-size="8.8" text-anchor="end" fill="#2b2b2b" font-weight="normal">0</text>
<line x1="315.1" y1="489.74" x2="318.3" y2="489.74" stroke="#1a1a1a" stroke-width="1.1"/>
<text x="312.3" y="492.34" font-size="8.8" text-anchor="end" fill="#2b2b2b" font-weight="normal">20</text>
<line x1="315.1" y1="467.18" x2="318.3" y2="467.18" stroke="#1a1a1a" stroke-width="1.1"/>
<text x="312.3" y="469.78" font-size="8.8" text-anchor="end" fill="#2b2b2b" font-weight="normal">40</text>
<line x1="315.1" y1="444.62" x2="318.3" y2="444.62" stroke="#1a1a1a" stroke-width="1.1"/>
<text x="312.3" y="447.22" font-size="8.8" text-anchor="end" fill="#2b2b2b" font-weight="normal">60</text>
<line x1="315.1" y1="422.06" x2="318.3" y2="422.06" stroke="#1a1a1a" stroke-width="1.1"/>
<text x="312.3" y="424.66" font-size="8.8" text-anchor="end" fill="#2b2b2b" font-weight="normal">80</text>
<line x1="315.1" y1="399.5" x2="318.3" y2="399.5" stroke="#1a1a1a" stroke-width="1.1"/>
<text x="312.3" y="402.1" font-size="8.8" text-anchor="end" fill="#2b2b2b" font-weight="normal">100</text>
<line x1="318.3" y1="512.3" x2="318.3" y2="515.5" stroke="#1a1a1a" stroke-width="1.1"/>
<text x="318.3" y="526.9" font-size="8.8" text-anchor="middle" fill="#2b2b2b" font-weight="normal">0</text>
<line x1="346.6" y1="512.3" x2="346.6" y2="515.5" stroke="#1a1a1a" stroke-width="1.1"/>
<text x="346.6" y="526.9" font-size="8.8" text-anchor="middle" fill="#2b2b2b" font-weight="normal">2</text>
<line x1="374.9" y1="512.3" x2="374.9" y2="515.5" stroke="#1a1a1a" stroke-width="1.1"/>
<text x="374.9" y="526.9" font-size="8.8" text-anchor="middle" fill="#2b2b2b" font-weight="normal">4</text>
<line x1="403.2" y1="512.3" x2="403.2" y2="515.5" stroke="#1a1a1a" stroke-width="1.1"/>
<text x="403.2" y="526.9" font-size="8.8" text-anchor="middle" fill="#2b2b2b" font-weight="normal">6</text>
<line x1="431.5" y1="512.3" x2="431.5" y2="515.5" stroke="#1a1a1a" stroke-width="1.1"/>
<text x="431.5" y="526.9" font-size="8.8" text-anchor="middle" fill="#2b2b2b" font-weight="normal">8</text>
<line x1="459.8" y1="512.3" x2="459.8" y2="515.5" stroke="#1a1a1a" stroke-width="1.1"/>
<text x="459.8" y="526.9" font-size="8.8" text-anchor="middle" fill="#2b2b2b" font-weight="normal">10</text>
<line x1="488.1" y1="512.3" x2="488.1" y2="515.5" stroke="#1a1a1a" stroke-width="1.1"/>
<text x="488.1" y="526.9" font-size="8.8" text-anchor="middle" fill="#2b2b2b" font-weight="normal">12</text>
<text x="328.2" y="541.6" font-size="10.6" text-anchor="start" fill="#2b2b2b" font-weight="normal" textLength="153.3" lengthAdjust="spacingAndGlyphs" stroke="#2b2b2b" stroke-width="0.3">Time after treatment discontinuation (wk)</text>
<text transform="translate(290.9 454.35) rotate(-90)" x="0" y="0" font-size="11" text-anchor="middle" fill="#2b2b2b" stroke="#2b2b2b" stroke-width="0.15" textLength="113.9" lengthAdjust="spacingAndGlyphs">mutCALR-positive platelets (%)</text>
<path d="M318.3 446 L374.9 449.8 L417.35 450.2 L459.8 441.5" fill="none" stroke="#234266" stroke-width="1.25"/>
<line x1="318.3" y1="434.4" x2="318.3" y2="457.5" stroke="#234266" stroke-width="1"/>
<line x1="316.1" y1="434.4" x2="320.5" y2="434.4" stroke="#234266" stroke-width="1"/>
<line x1="316.1" y1="457.5" x2="320.5" y2="457.5" stroke="#234266" stroke-width="1"/>
<line x1="374.9" y1="434.8" x2="374.9" y2="464.6" stroke="#234266" stroke-width="1"/>
<line x1="372.7" y1="434.8" x2="377.1" y2="434.8" stroke="#234266" stroke-width="1"/>
<line x1="372.7" y1="464.6" x2="377.1" y2="464.6" stroke="#234266" stroke-width="1"/>
<line x1="417.35" y1="432.9" x2="417.35" y2="466.9" stroke="#234266" stroke-width="1"/>
<line x1="415.15" y1="432.9" x2="419.55" y2="432.9" stroke="#234266" stroke-width="1"/>
<line x1="415.15" y1="466.9" x2="419.55" y2="466.9" stroke="#234266" stroke-width="1"/>
<line x1="459.8" y1="419.4" x2="459.8" y2="463.3" stroke="#234266" stroke-width="1"/>
<line x1="457.6" y1="419.4" x2="462" y2="419.4" stroke="#234266" stroke-width="1"/>
<line x1="457.6" y1="463.3" x2="462" y2="463.3" stroke="#234266" stroke-width="1"/>
<circle cx="318.3" cy="446" r="2.4" fill="#173f66"/>
<circle cx="374.9" cy="449.8" r="2.4" fill="#173f66"/>
<circle cx="417.35" cy="450.2" r="2.4" fill="#173f66"/>
<circle cx="459.8" cy="441.5" r="2.4" fill="#173f66"/>
<path d="M318.3 403 L374.9 403.8 L417.35 400.2 L459.8 400.8" fill="none" stroke="#a0253e" stroke-width="1.25" stroke-dasharray="4.6 3.6"/>
<line x1="374.9" y1="400.9" x2="374.9" y2="407" stroke="#a0253e" stroke-width="1"/>
<line x1="372.7" y1="400.9" x2="377.1" y2="400.9" stroke="#a0253e" stroke-width="1"/>
<line x1="372.7" y1="407" x2="377.1" y2="407" stroke="#a0253e" stroke-width="1"/>
<circle cx="318.3" cy="403" r="2.4" fill="#c20f2e"/>
<circle cx="374.9" cy="403.8" r="2.4" fill="#c20f2e"/>
<circle cx="417.35" cy="400.2" r="2.4" fill="#c20f2e"/>
<circle cx="459.8" cy="400.8" r="2.4" fill="#c20f2e"/>
<line x1="323.5" y1="490.8" x2="335.6" y2="490.8" stroke="#a0253e" stroke-width="1.2" stroke-dasharray="2.6 2.2"/>
<circle cx="329.55" cy="490.8" r="2.2" fill="#c20f2e"/>
<text x="339.4" y="493.9" font-size="8.7" text-anchor="start" fill="#2b2b2b" font-weight="normal" textLength="28.6" lengthAdjust="spacingAndGlyphs">Isotype</text>
<line x1="323.5" y1="504" x2="335.6" y2="504" stroke="#234266" stroke-width="1.2"/>
<circle cx="329.55" cy="504" r="2.2" fill="#173f66"/>
<text x="339.4" y="507.1" font-size="8.7" text-anchor="start" fill="#2b2b2b" font-weight="normal" textLength="125.6" lengthAdjust="spacingAndGlyphs">INCA033989 (mouse surrogate)</text>
<line x1="470.5" y1="401.5" x2="470.5" y2="441.5" stroke="#222" stroke-width="1"/>
<line x1="465.4" y1="401.5" x2="475.6" y2="401.5" stroke="#222" stroke-width="1"/>
<line x1="465.4" y1="441.5" x2="475.6" y2="441.5" stroke="#222" stroke-width="1"/>
<path d="M476.1 418.65L476.1 421.35M474.93 419.32L477.27 420.68M477.27 419.32L474.93 420.68M479.8 418.65L479.8 421.35M478.63 419.32L480.97 420.68M480.97 419.32L478.63 420.68" stroke="#1a1a1a" stroke-width="0.95" stroke-linecap="round" fill="none"/>
<text x="7.9" y="572" font-size="12.6" text-anchor="start" fill="#111" font-weight="bold" stroke="#111" stroke-width="0.35">G</text>
<line x1="64.3" y1="590.8" x2="64.3" y2="711.25" stroke="#1a1a1a" stroke-width="1.1"/>
<line x1="63.75" y1="710.7" x2="242.7" y2="710.7" stroke="#1a1a1a" stroke-width="1.1"/>
<line x1="61.1" y1="710.7" x2="64.3" y2="710.7" stroke="#1a1a1a" stroke-width="1.1"/>
<text x="57.9" y="713.3" font-size="8.8" text-anchor="end" fill="#2b2b2b" font-weight="normal">0</text>
<line x1="61.1" y1="671.77" x2="64.3" y2="671.77" stroke="#1a1a1a" stroke-width="1.1"/>
<text x="57.9" y="674.37" font-size="8.8" text-anchor="end" fill="#2b2b2b" font-weight="normal">1000</text>
<line x1="61.1" y1="632.84" x2="64.3" y2="632.84" stroke="#1a1a1a" stroke-width="1.1"/>
<text x="57.9" y="635.44" font-size="8.8" text-anchor="end" fill="#2b2b2b" font-weight="normal">2000</text>
<line x1="61.1" y1="593.91" x2="64.3" y2="593.91" stroke="#1a1a1a" stroke-width="1.1"/>
<text x="57.9" y="596.51" font-size="8.8" text-anchor="end" fill="#2b2b2b" font-weight="normal">3000</text>
<line x1="64.3" y1="710.7" x2="64.3" y2="713.9" stroke="#1a1a1a" stroke-width="1.1"/>
<text x="64.3" y="724.8" font-size="8.8" text-anchor="middle" fill="#2b2b2b" font-weight="normal">0</text>
<line x1="108.2" y1="710.7" x2="108.2" y2="713.9" stroke="#1a1a1a" stroke-width="1.1"/>
<text x="108.2" y="724.8" font-size="8.8" text-anchor="middle" fill="#2b2b2b" font-weight="normal">4</text>
<line x1="152.1" y1="710.7" x2="152.1" y2="713.9" stroke="#1a1a1a" stroke-width="1.1"/>
<text x="152.1" y="724.8" font-size="8.8" text-anchor="middle" fill="#2b2b2b" font-weight="normal">8</text>
<line x1="196" y1="710.7" x2="196" y2="713.9" stroke="#1a1a1a" stroke-width="1.1"/>
<text x="196" y="724.8" font-size="8.8" text-anchor="middle" fill="#2b2b2b" font-weight="normal">12</text>
<line x1="239.9" y1="710.7" x2="239.9" y2="713.9" stroke="#1a1a1a" stroke-width="1.1"/>
<text x="239.9" y="724.8" font-size="8.8" text-anchor="middle" fill="#2b2b2b" font-weight="normal">16</text>
<text x="77.3" y="739.6" font-size="10.6" text-anchor="start" fill="#2b2b2b" font-weight="normal" textLength="152.9" lengthAdjust="spacingAndGlyphs" stroke="#2b2b2b" stroke-width="0.3">Time after secondary transplantation (wk)</text>
<text transform="translate(31.9 650.55) rotate(-90)" x="0" y="0" font-size="11" text-anchor="middle" fill="#2b2b2b" stroke="#2b2b2b" stroke-width="0.15" textLength="93.7" lengthAdjust="spacingAndGlyphs">Platelets (× 10³ cells/µL)</text>
<path d="M108.2 675 L152.1 664.2 L196 654 L239.9 650.2" fill="none" stroke="#234266" stroke-width="1.25"/>
<line x1="152.1" y1="660.8" x2="152.1" y2="666.7" stroke="#234266" stroke-width="1"/>
<line x1="149.9" y1="660.8" x2="154.3" y2="660.8" stroke="#234266" stroke-width="1"/>
<line x1="149.9" y1="666.7" x2="154.3" y2="666.7" stroke="#234266" stroke-width="1"/>
<line x1="196" y1="649.8" x2="196" y2="658.7" stroke="#234266" stroke-width="1"/>
<line x1="193.8" y1="649.8" x2="198.2" y2="649.8" stroke="#234266" stroke-width="1"/>
<line x1="193.8" y1="658.7" x2="198.2" y2="658.7" stroke="#234266" stroke-width="1"/>
<line x1="239.9" y1="641.3" x2="239.9" y2="659.8" stroke="#234266" stroke-width="1"/>
<line x1="237.7" y1="641.3" x2="242.1" y2="641.3" stroke="#234266" stroke-width="1"/>
<line x1="237.7" y1="659.8" x2="242.1" y2="659.8" stroke="#234266" stroke-width="1"/>
<circle cx="108.2" cy="675" r="2.4" fill="#173f66"/>
<circle cx="152.1" cy="664.2" r="2.4" fill="#173f66"/>
<circle cx="196" cy="654" r="2.4" fill="#173f66"/>
<circle cx="239.9" cy="650.2" r="2.4" fill="#173f66"/>
<path d="M108.2 670.8 L152.1 657.9 L196 630.1 L239.9 612.2" fill="none" stroke="#a0253e" stroke-width="1.25" stroke-dasharray="4.6 3.6"/>
<line x1="152.1" y1="653.4" x2="152.1" y2="662.1" stroke="#a0253e" stroke-width="1"/>
<line x1="149.9" y1="653.4" x2="154.3" y2="653.4" stroke="#a0253e" stroke-width="1"/>
<line x1="149.9" y1="662.1" x2="154.3" y2="662.1" stroke="#a0253e" stroke-width="1"/>
<line x1="196" y1="618.5" x2="196" y2="642" stroke="#a0253e" stroke-width="1"/>
<line x1="193.8" y1="618.5" x2="198.2" y2="618.5" stroke="#a0253e" stroke-width="1"/>
<line x1="193.8" y1="642" x2="198.2" y2="642" stroke="#a0253e" stroke-width="1"/>
<line x1="239.9" y1="602.2" x2="239.9" y2="622.3" stroke="#a0253e" stroke-width="1"/>
<line x1="237.7" y1="602.2" x2="242.1" y2="602.2" stroke="#a0253e" stroke-width="1"/>
<line x1="237.7" y1="622.3" x2="242.1" y2="622.3" stroke="#a0253e" stroke-width="1"/>
<circle cx="108.2" cy="670.8" r="2.4" fill="#c20f2e"/>
<circle cx="152.1" cy="657.9" r="2.4" fill="#c20f2e"/>
<circle cx="196" cy="630.1" r="2.4" fill="#c20f2e"/>
<circle cx="239.9" cy="612.2" r="2.4" fill="#c20f2e"/>
<line x1="70.5" y1="581.5" x2="82.8" y2="581.5" stroke="#a0253e" stroke-width="1.2" stroke-dasharray="2.6 2.2"/>
<circle cx="76.65" cy="581.5" r="2.2" fill="#c20f2e"/>
<text x="86.2" y="584.6" font-size="8.7" text-anchor="start" fill="#2b2b2b" font-weight="normal" textLength="28.6" lengthAdjust="spacingAndGlyphs">Isotype</text>
<line x1="70.5" y1="594.3" x2="82.8" y2="594.3" stroke="#234266" stroke-width="1.2"/>
<circle cx="76.65" cy="594.3" r="2.2" fill="#173f66"/>
<text x="86.2" y="597.4" font-size="8.7" text-anchor="start" fill="#2b2b2b" font-weight="normal" textLength="125.8" lengthAdjust="spacingAndGlyphs">INCA033989 (mouse surrogate)</text>
<path d="M239.9 595.95L239.9 598.65M238.73 596.62L241.07 597.97M241.07 596.62L238.73 597.97" stroke="#1a1a1a" stroke-width="0.95" stroke-linecap="round" fill="none"/>
<text x="271.6" y="572" font-size="12.6" text-anchor="start" fill="#111" font-weight="bold" stroke="#111" stroke-width="0.35">H</text>
<line x1="318.5" y1="593.5" x2="318.5" y2="710.65" stroke="#1a1a1a" stroke-width="1.1"/>
<line x1="317.95" y1="710.1" x2="492" y2="710.1" stroke="#1a1a1a" stroke-width="1.1"/>
<line x1="315.3" y1="710.1" x2="318.5" y2="710.1" stroke="#1a1a1a" stroke-width="1.1"/>
<text x="312.3" y="712.7" font-size="8.8" text-anchor="end" fill="#2b2b2b" font-weight="normal">0</text>
<line x1="315.3" y1="681.65" x2="318.5" y2="681.65" stroke="#1a1a1a" stroke-width="1.1"/>
<text x="312.3" y="684.25" font-size="8.8" text-anchor="end" fill="#2b2b2b" font-weight="normal">25</text>
<line x1="315.3" y1="653.2" x2="318.5" y2="653.2" stroke="#1a1a1a" stroke-width="1.1"/>
<text x="312.3" y="655.8" font-size="8.8" text-anchor="end" fill="#2b2b2b" font-weight="normal">50</text>
<line x1="315.3" y1="624.75" x2="318.5" y2="624.75" stroke="#1a1a1a" stroke-width="1.1"/>
<text x="312.3" y="627.35" font-size="8.8" text-anchor="end" fill="#2b2b2b" font-weight="normal">75</text>
<line x1="315.3" y1="596.3" x2="318.5" y2="596.3" stroke="#1a1a1a" stroke-width="1.1"/>
<text x="312.3" y="598.9" font-size="8.8" text-anchor="end" fill="#2b2b2b" font-weight="normal">100</text>
<line x1="318.5" y1="710.1" x2="318.5" y2="713.3" stroke="#1a1a1a" stroke-width="1.1"/>
<text x="318.5" y="725" font-size="8.8" text-anchor="middle" fill="#2b2b2b" font-weight="normal">0</text>
<line x1="361.18" y1="710.1" x2="361.18" y2="713.3" stroke="#1a1a1a" stroke-width="1.1"/>
<text x="361.18" y="725" font-size="8.8" text-anchor="middle" fill="#2b2b2b" font-weight="normal">4</text>
<line x1="403.86" y1="710.1" x2="403.86" y2="713.3" stroke="#1a1a1a" stroke-width="1.1"/>
<text x="403.86" y="725" font-size="8.8" text-anchor="middle" fill="#2b2b2b" font-weight="normal">8</text>
<line x1="446.54" y1="710.1" x2="446.54" y2="713.3" stroke="#1a1a1a" stroke-width="1.1"/>
<text x="446.54" y="725" font-size="8.8" text-anchor="middle" fill="#2b2b2b" font-weight="normal">12</text>
<line x1="489.22" y1="710.1" x2="489.22" y2="713.3" stroke="#1a1a1a" stroke-width="1.1"/>
<text x="489.22" y="725" font-size="8.8" text-anchor="middle" fill="#2b2b2b" font-weight="normal">16</text>
<text x="329.4" y="739.4" font-size="10.6" text-anchor="start" fill="#2b2b2b" font-weight="normal" textLength="153" lengthAdjust="spacingAndGlyphs" stroke="#2b2b2b" stroke-width="0.3">Time after secondary transplantation (wk)</text>
<text transform="translate(290.9 652.25) rotate(-90)" x="0" y="0" font-size="11" text-anchor="middle" fill="#2b2b2b" stroke="#2b2b2b" stroke-width="0.15" textLength="113.9" lengthAdjust="spacingAndGlyphs">mutCALR-positive platelets (%)</text>
<path d="M318.5 679 L361.18 688.8 L403.86 673.5 L446.54 654.3 L489.22 642.4" fill="none" stroke="#234266" stroke-width="1.25"/>
<line x1="318.5" y1="667.1" x2="318.5" y2="690.6" stroke="#234266" stroke-width="1"/>
<line x1="316.3" y1="667.1" x2="320.7" y2="667.1" stroke="#234266" stroke-width="1"/>
<line x1="316.3" y1="690.6" x2="320.7" y2="690.6" stroke="#234266" stroke-width="1"/>
<line x1="361.18" y1="684.8" x2="361.18" y2="693.1" stroke="#234266" stroke-width="1"/>
<line x1="358.98" y1="684.8" x2="363.38" y2="684.8" stroke="#234266" stroke-width="1"/>
<line x1="358.98" y1="693.1" x2="363.38" y2="693.1" stroke="#234266" stroke-width="1"/>
<line x1="403.86" y1="665.4" x2="403.86" y2="681.1" stroke="#234266" stroke-width="1"/>
<line x1="401.66" y1="665.4" x2="406.06" y2="665.4" stroke="#234266" stroke-width="1"/>
<line x1="401.66" y1="681.1" x2="406.06" y2="681.1" stroke="#234266" stroke-width="1"/>
<line x1="446.54" y1="642.8" x2="446.54" y2="665.4" stroke="#234266" stroke-width="1"/>
<line x1="444.34" y1="642.8" x2="448.74" y2="642.8" stroke="#234266" stroke-width="1"/>
<line x1="444.34" y1="665.4" x2="448.74" y2="665.4" stroke="#234266" stroke-width="1"/>
<line x1="489.22" y1="627.3" x2="489.22" y2="657.8" stroke="#234266" stroke-width="1"/>
<line x1="487.02" y1="627.3" x2="491.42" y2="627.3" stroke="#234266" stroke-width="1"/>
<line x1="487.02" y1="657.8" x2="491.42" y2="657.8" stroke="#234266" stroke-width="1"/>
<circle cx="318.5" cy="679" r="2.4" fill="#173f66"/>
<circle cx="361.18" cy="688.8" r="2.4" fill="#173f66"/>
<circle cx="403.86" cy="673.5" r="2.4" fill="#173f66"/>
<circle cx="446.54" cy="654.3" r="2.4" fill="#173f66"/>
<circle cx="489.22" cy="642.4" r="2.4" fill="#173f66"/>
<path d="M318.5 606.5 L361.18 638.3 L403.86 627.8 L446.54 607.7 L489.22 601.3" fill="none" stroke="#a0253e" stroke-width="1.25" stroke-dasharray="4.6 3.6"/>
<line x1="318.5" y1="598.3" x2="318.5" y2="614.6" stroke="#a0253e" stroke-width="1"/>
<line x1="316.3" y1="598.3" x2="320.7" y2="598.3" stroke="#a0253e" stroke-width="1"/>
<line x1="316.3" y1="614.6" x2="320.7" y2="614.6" stroke="#a0253e" stroke-width="1"/>
<line x1="361.18" y1="631" x2="361.18" y2="645" stroke="#a0253e" stroke-width="1"/>
<line x1="358.98" y1="631" x2="363.38" y2="631" stroke="#a0253e" stroke-width="1"/>
<line x1="358.98" y1="645" x2="363.38" y2="645" stroke="#a0253e" stroke-width="1"/>
<line x1="403.86" y1="618.5" x2="403.86" y2="637" stroke="#a0253e" stroke-width="1"/>
<line x1="401.66" y1="618.5" x2="406.06" y2="618.5" stroke="#a0253e" stroke-width="1"/>
<line x1="401.66" y1="637" x2="406.06" y2="637" stroke="#a0253e" stroke-width="1"/>
<line x1="446.54" y1="603.8" x2="446.54" y2="611.2" stroke="#a0253e" stroke-width="1"/>
<line x1="444.34" y1="603.8" x2="448.74" y2="603.8" stroke="#a0253e" stroke-width="1"/>
<line x1="444.34" y1="611.2" x2="448.74" y2="611.2" stroke="#a0253e" stroke-width="1"/>
<circle cx="318.5" cy="606.5" r="2.4" fill="#c20f2e"/>
<circle cx="361.18" cy="638.3" r="2.4" fill="#c20f2e"/>
<circle cx="403.86" cy="627.8" r="2.4" fill="#c20f2e"/>
<circle cx="446.54" cy="607.7" r="2.4" fill="#c20f2e"/>
<circle cx="489.22" cy="601.3" r="2.4" fill="#c20f2e"/>
<line x1="324.4" y1="581.3" x2="336.9" y2="581.3" stroke="#a0253e" stroke-width="1.2" stroke-dasharray="2.6 2.2"/>
<circle cx="330.65" cy="581.3" r="2.2" fill="#c20f2e"/>
<text x="339.2" y="584.4" font-size="8.7" text-anchor="start" fill="#2b2b2b" font-weight="normal" textLength="28.6" lengthAdjust="spacingAndGlyphs">Isotype</text>
<line x1="324.4" y1="594.4" x2="336.9" y2="594.4" stroke="#234266" stroke-width="1.2"/>
<circle cx="330.65" cy="594.4" r="2.2" fill="#173f66"/>
<text x="339.2" y="597.4" font-size="8.7" text-anchor="start" fill="#2b2b2b" font-weight="normal" textLength="126.7" lengthAdjust="spacingAndGlyphs">INCA033989 (mouse surrogate)</text>
<line x1="501.5" y1="601.5" x2="501.5" y2="641.5" stroke="#222" stroke-width="1"/>
<line x1="496.2" y1="601.5" x2="506.3" y2="601.5" stroke="#222" stroke-width="1"/>
<line x1="496.2" y1="641.5" x2="506.3" y2="641.5" stroke="#222" stroke-width="1"/>
<path d="M506.6 618.45L506.6 621.15M505.43 619.12L507.77 620.47M507.77 619.12L505.43 620.47M510.3 618.45L510.3 621.15M509.13 619.12L511.47 620.47M511.47 619.12L509.13 620.47" stroke="#1a1a1a" stroke-width="0.95" stroke-linecap="round" fill="none"/>
<line x1="318.4" y1="735" x2="318.4" y2="744.6" stroke="#444" stroke-width="1.3"/>
<path d="M316.4 736.6 L318.4 731.5 L320.4 736.6 Z" fill="#444"/>
<text x="294.2" y="755.8" font-size="8.7" text-anchor="start" fill="#2b2b2b" font-weight="normal" textLength="47.3" lengthAdjust="spacingAndGlyphs">Before BMT</text>
<rect x="0.5" y="0.5" width="519" height="764" fill="none" stroke="#484848" stroke-width="1"/>
</svg>
</body></html>
